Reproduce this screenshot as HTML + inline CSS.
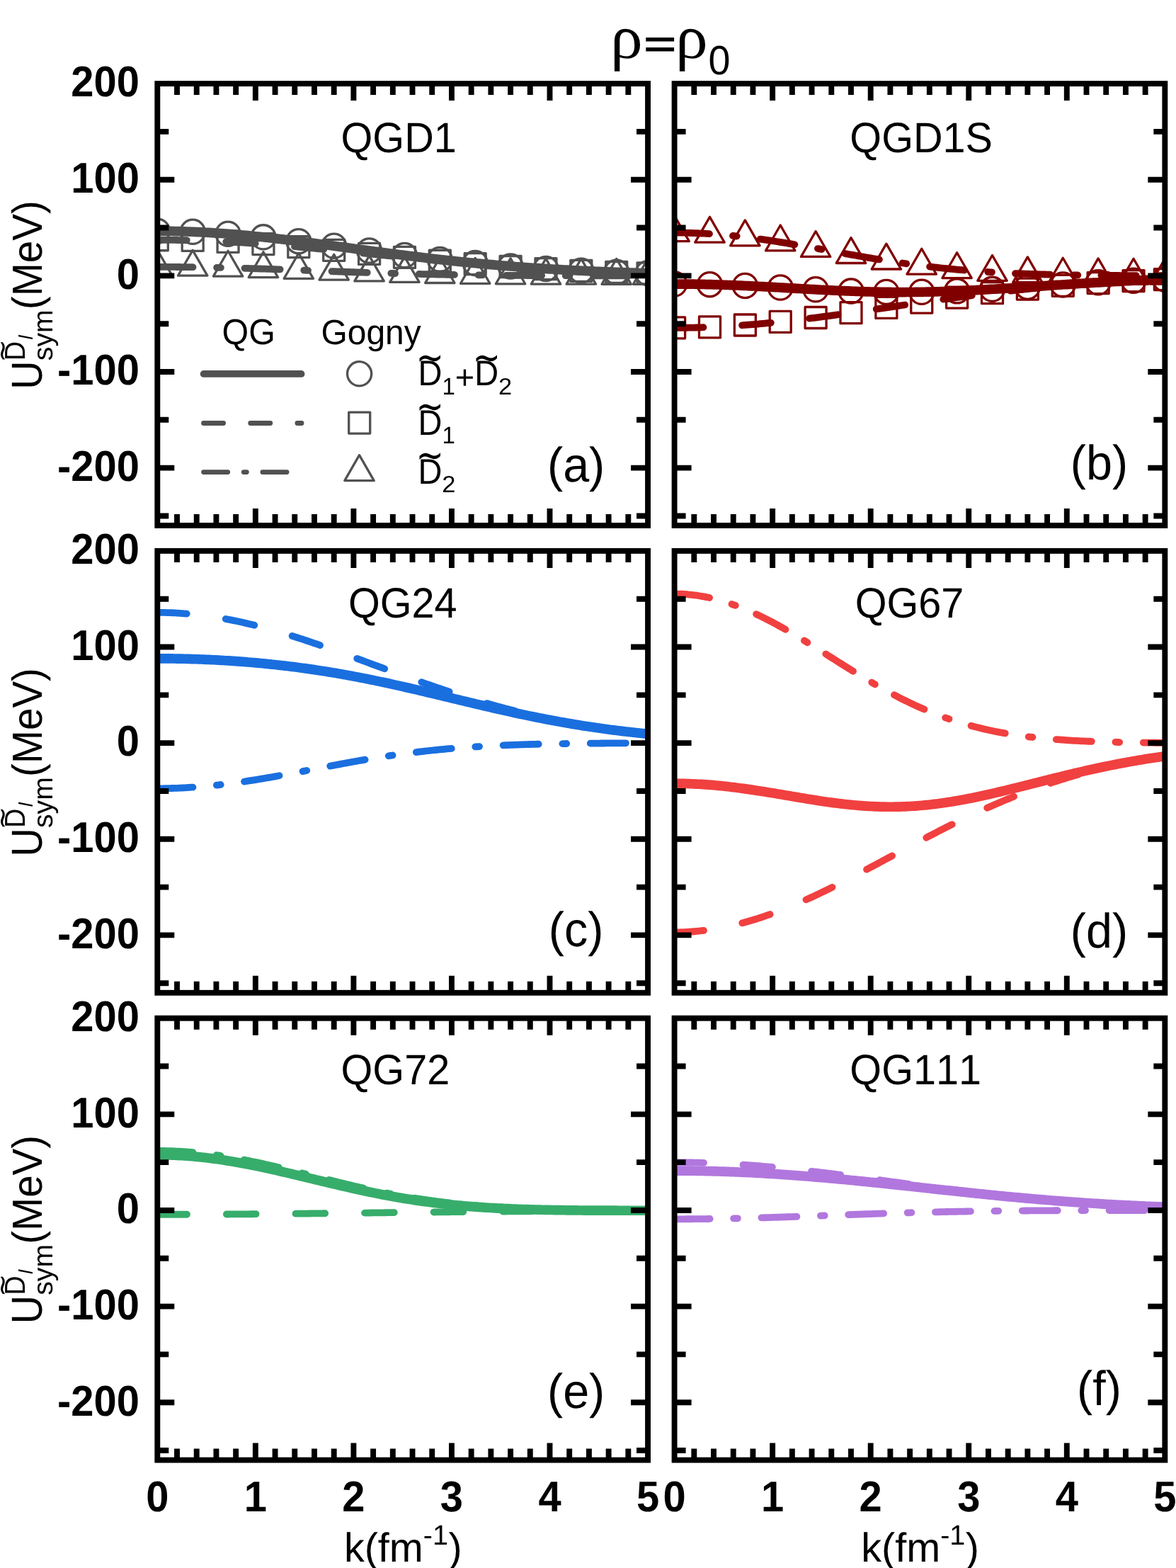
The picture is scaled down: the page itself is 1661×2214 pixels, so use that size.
<!DOCTYPE html>
<html lang="en"><head><meta charset="utf-8"><title>U_sym momentum dependence</title>
<style>html,body{margin:0;padding:0;background:#fff;overflow:hidden}svg{display:block}text{font-kerning:none;white-space:pre;text-rendering:geometricPrecision}</style></head>
<body>
<svg width="1661" height="2214" viewBox="0 0 1661 2214">
<rect x="0" y="0" width="1661" height="2214" fill="#fff"/>
<defs>
<clipPath id="c0"><rect x="222.3" y="118.1" width="692.75" height="623.9"/></clipPath>
<clipPath id="c1"><rect x="952.6" y="118.1" width="692.75" height="623.9"/></clipPath>
<clipPath id="c2"><rect x="222.3" y="777.9" width="692.75" height="623.9"/></clipPath>
<clipPath id="c3"><rect x="952.6" y="777.9" width="692.75" height="623.9"/></clipPath>
<clipPath id="c4"><rect x="222.3" y="1437.7" width="692.75" height="623.9"/></clipPath>
<clipPath id="c5"><rect x="952.6" y="1437.7" width="692.75" height="623.9"/></clipPath>
</defs>
<g clip-path="url(#c0)" fill="none" stroke="#515151" stroke-linecap="round" stroke-linejoin="round">
<g stroke-width="3.3">
<rect x="207.3" y="323.77" width="30" height="30"/>
<rect x="257.18" y="324.45" width="30" height="30"/>
<rect x="307.06" y="326.45" width="30" height="30"/>
<rect x="356.93" y="329.6" width="30" height="30"/>
<rect x="406.81" y="333.66" width="30" height="30"/>
<rect x="456.69" y="338.36" width="30" height="30"/>
<rect x="506.57" y="343.38" width="30" height="30"/>
<rect x="556.45" y="348.42" width="30" height="30"/>
<rect x="606.32" y="353.24" width="30" height="30"/>
<rect x="656.2" y="357.63" width="30" height="30"/>
<rect x="706.08" y="361.48" width="30" height="30"/>
<rect x="755.96" y="364.72" width="30" height="30"/>
<rect x="805.84" y="367.34" width="30" height="30"/>
<rect x="855.71" y="369.4" width="30" height="30"/>
<rect x="900.05" y="370.8" width="30" height="30"/>
<path d="M222.3,352.98 L243,388.83 L201.6,388.83 Z"/>
<path d="M272.18,353.31 L292.88,389.16 L251.48,389.16 Z"/>
<path d="M322.06,354.27 L342.76,390.12 L301.36,390.12 Z"/>
<path d="M371.93,355.72 L392.63,391.57 L351.23,391.57 Z"/>
<path d="M421.81,357.48 L442.51,393.33 L401.11,393.33 Z"/>
<path d="M471.69,359.34 L492.39,395.19 L450.99,395.19 Z"/>
<path d="M521.57,361.08 L542.27,396.93 L500.87,396.93 Z"/>
<path d="M571.45,362.55 L592.15,398.4 L550.75,398.4 Z"/>
<path d="M621.32,363.67 L642.02,399.52 L600.62,399.52 Z"/>
<path d="M671.2,364.44 L691.9,400.29 L650.5,400.29 Z"/>
<path d="M721.08,364.93 L741.78,400.78 L700.38,400.78 Z"/>
<path d="M770.96,365.2 L791.66,401.05 L750.26,401.05 Z"/>
<path d="M820.84,365.35 L841.54,401.2 L800.14,401.2 Z"/>
<path d="M870.71,365.41 L891.41,401.26 L850.01,401.26 Z"/>
<path d="M915.05,365.44 L935.75,401.29 L894.35,401.29 Z"/>
<circle cx="222.3" cy="326.29" r="17.1"/>
<circle cx="272.18" cy="327.31" r="17.1"/>
<circle cx="322.06" cy="330.25" r="17.1"/>
<circle cx="371.93" cy="334.85" r="17.1"/>
<circle cx="421.81" cy="340.69" r="17.1"/>
<circle cx="471.69" cy="347.24" r="17.1"/>
<circle cx="521.57" cy="354" r="17.1"/>
<circle cx="571.45" cy="360.51" r="17.1"/>
<circle cx="621.32" cy="366.44" r="17.1"/>
<circle cx="671.2" cy="371.61" r="17.1"/>
<circle cx="721.08" cy="375.94" r="17.1"/>
<circle cx="770.96" cy="379.46" r="17.1"/>
<circle cx="820.84" cy="382.23" r="17.1"/>
<circle cx="870.71" cy="384.35" r="17.1"/>
<circle cx="915.05" cy="385.78" r="17.1"/>
</g>
<path d="M222.3,338.77 L225.76,338.77 L229.23,338.78 L232.69,338.8 L236.16,338.82 L239.62,338.85 L243.08,338.89 L246.55,338.93 L250.01,338.98 L253.47,339.04 L256.94,339.1 L260.4,339.17 L263.87,339.25 L267.33,339.33 L270.79,339.42 L274.26,339.51 L277.72,339.61 L281.18,339.72 L284.65,339.83 L288.11,339.95 L291.58,340.08 L295.04,340.21 L298.5,340.35 L301.97,340.49 L305.43,340.64 L308.89,340.8 L312.36,340.96 L315.82,341.13 L319.29,341.3 L322.75,341.48 L326.21,341.67 L329.68,341.86 L333.14,342.05 L336.6,342.26 L340.07,342.46 L343.53,342.67 L347,342.89 L350.46,343.11 L353.92,343.34 L357.39,343.57 L360.85,343.81 L364.31,344.05 L367.78,344.29 L371.24,344.55 L374.71,344.8 L378.17,345.06 L381.63,345.32 L385.1,345.59 L388.56,345.86 L392.02,346.14 L395.49,346.42 L398.95,346.7 L402.42,346.99 L405.88,347.28 L409.34,347.58 L412.81,347.87 L416.27,348.17 L419.73,348.48 L423.2,348.79 L426.66,349.1 L430.12,349.41 L433.59,349.73 L437.05,350.05 L440.52,350.37 L443.98,350.69 L447.44,351.02 L450.91,351.35 L454.37,351.68 L457.84,352.01 L461.3,352.34 L464.76,352.68 L468.23,353.02 L471.69,353.36 L475.15,353.7 L478.62,354.04 L482.08,354.39 L485.55,354.73 L489.01,355.08 L492.47,355.43 L495.94,355.78 L499.4,356.13 L502.86,356.48 L506.33,356.83 L509.79,357.18 L513.26,357.53 L516.72,357.88 L520.18,358.24 L523.65,358.59 L527.11,358.94 L530.57,359.29 L534.04,359.65 L537.5,360 L540.97,360.35 L544.43,360.7 L547.89,361.05 L551.36,361.4 L554.82,361.75 L558.28,362.1 L561.75,362.45 L565.21,362.8 L568.67,363.14 L572.14,363.49 L575.6,363.83 L579.07,364.18 L582.53,364.52 L585.99,364.86 L589.46,365.2 L592.92,365.54 L596.38,365.87 L599.85,366.21 L603.31,366.54 L606.78,366.87 L610.24,367.2 L613.7,367.52 L617.17,367.85 L620.63,368.17 L624.1,368.49 L627.56,368.81 L631.02,369.13 L634.49,369.44 L637.95,369.76 L641.41,370.07 L644.88,370.37 L648.34,370.68 L651.81,370.98 L655.27,371.28 L658.73,371.58 L662.2,371.88 L665.66,372.17 L669.12,372.46 L672.59,372.75 L676.05,373.03 L679.52,373.31 L682.98,373.59 L686.44,373.87 L689.91,374.14 L693.37,374.41 L696.83,374.68 L700.3,374.95 L703.76,375.21 L707.22,375.47 L710.69,375.73 L714.15,375.98 L717.62,376.23 L721.08,376.48 L724.54,376.72 L728.01,376.97 L731.47,377.2 L734.93,377.44 L738.4,377.67 L741.86,377.9 L745.33,378.13 L748.79,378.35 L752.25,378.58 L755.72,378.79 L759.18,379.01 L762.64,379.22 L766.11,379.43 L769.57,379.64 L773.04,379.84 L776.5,380.04 L779.96,380.24 L783.43,380.43 L786.89,380.62 L790.36,380.81 L793.82,381 L797.28,381.18 L800.75,381.36 L804.21,381.53 L807.67,381.71 L811.14,381.88 L814.6,382.05 L818.07,382.21 L821.53,382.38 L824.99,382.54 L828.46,382.69 L831.92,382.85 L835.38,383 L838.85,383.15 L842.31,383.29 L845.78,383.44 L849.24,383.58 L852.7,383.72 L856.17,383.85 L859.63,383.99 L863.09,384.12 L866.56,384.25 L870.02,384.37 L873.49,384.5 L876.95,384.62 L880.41,384.74 L883.88,384.85 L887.34,384.97 L890.8,385.08 L894.27,385.19 L897.73,385.3 L901.2,385.4 L904.66,385.5 L908.12,385.6 L911.59,385.7 L915.05,385.8" stroke-width="9.8" stroke-dasharray="41.5 55.5"/>
<path d="M222.3,376.88 L225.76,376.88 L229.23,376.89 L232.69,376.9 L236.16,376.91 L239.62,376.92 L243.08,376.94 L246.55,376.96 L250.01,376.99 L253.47,377.01 L256.94,377.04 L260.4,377.08 L263.87,377.11 L267.33,377.15 L270.79,377.2 L274.26,377.24 L277.72,377.29 L281.18,377.34 L284.65,377.4 L288.11,377.46 L291.58,377.52 L295.04,377.58 L298.5,377.65 L301.97,377.71 L305.43,377.79 L308.89,377.86 L312.36,377.94 L315.82,378.02 L319.29,378.1 L322.75,378.18 L326.21,378.27 L329.68,378.36 L333.14,378.45 L336.6,378.55 L340.07,378.64 L343.53,378.74 L347,378.84 L350.46,378.94 L353.92,379.05 L357.39,379.15 L360.85,379.26 L364.31,379.37 L367.78,379.48 L371.24,379.6 L374.71,379.71 L378.17,379.83 L381.63,379.95 L385.1,380.06 L388.56,380.18 L392.02,380.31 L395.49,380.43 L398.95,380.55 L402.42,380.68 L405.88,380.8 L409.34,380.93 L412.81,381.05 L416.27,381.18 L419.73,381.31 L423.2,381.44 L426.66,381.57 L430.12,381.69 L433.59,381.82 L437.05,381.95 L440.52,382.08 L443.98,382.21 L447.44,382.34 L450.91,382.47 L454.37,382.6 L457.84,382.73 L461.3,382.86 L464.76,382.99 L468.23,383.12 L471.69,383.24 L475.15,383.37 L478.62,383.5 L482.08,383.62 L485.55,383.75 L489.01,383.87 L492.47,383.99 L495.94,384.11 L499.4,384.24 L502.86,384.36 L506.33,384.47 L509.79,384.59 L513.26,384.71 L516.72,384.82 L520.18,384.94 L523.65,385.05 L527.11,385.16 L530.57,385.27 L534.04,385.38 L537.5,385.49 L540.97,385.59 L544.43,385.69 L547.89,385.8 L551.36,385.9 L554.82,386 L558.28,386.09 L561.75,386.19 L565.21,386.28 L568.67,386.38 L572.14,386.47 L575.6,386.56 L579.07,386.64 L582.53,386.73 L585.99,386.81 L589.46,386.89 L592.92,386.97 L596.38,387.05 L599.85,387.13 L603.31,387.2 L606.78,387.28 L610.24,387.35 L613.7,387.42 L617.17,387.49 L620.63,387.55 L624.1,387.62 L627.56,387.68 L631.02,387.74 L634.49,387.8 L637.95,387.86 L641.41,387.92 L644.88,387.97 L648.34,388.03 L651.81,388.08 L655.27,388.13 L658.73,388.18 L662.2,388.22 L665.66,388.27 L669.12,388.31 L672.59,388.36 L676.05,388.4 L679.52,388.44 L682.98,388.48 L686.44,388.52 L689.91,388.55 L693.37,388.59 L696.83,388.62 L700.3,388.65 L703.76,388.69 L707.22,388.72 L710.69,388.74 L714.15,388.77 L717.62,388.8 L721.08,388.83 L724.54,388.85 L728.01,388.88 L731.47,388.9 L734.93,388.92 L738.4,388.94 L741.86,388.96 L745.33,388.98 L748.79,389 L752.25,389.02 L755.72,389.04 L759.18,389.05 L762.64,389.07 L766.11,389.08 L769.57,389.1 L773.04,389.11 L776.5,389.12 L779.96,389.14 L783.43,389.15 L786.89,389.16 L790.36,389.17 L793.82,389.18 L797.28,389.19 L800.75,389.2 L804.21,389.21 L807.67,389.22 L811.14,389.23 L814.6,389.23 L818.07,389.24 L821.53,389.25 L824.99,389.25 L828.46,389.26 L831.92,389.27 L835.38,389.27 L838.85,389.28 L842.31,389.28 L845.78,389.29 L849.24,389.29 L852.7,389.3 L856.17,389.3 L859.63,389.3 L863.09,389.31 L866.56,389.31 L870.02,389.31 L873.49,389.32 L876.95,389.32 L880.41,389.32 L883.88,389.32 L887.34,389.33 L890.8,389.33 L894.27,389.33 L897.73,389.33 L901.2,389.34 L904.66,389.34 L908.12,389.34 L911.59,389.34 L915.05,389.34" stroke-width="9.8" stroke-dasharray="50.2 33.6 5.8 33.6"/>
<path d="M222.3,326.29 L225.76,326.3 L229.23,326.31 L232.69,326.34 L236.16,326.37 L239.62,326.42 L243.08,326.47 L246.55,326.53 L250.01,326.61 L253.47,326.69 L256.94,326.78 L260.4,326.89 L263.87,327 L267.33,327.12 L270.79,327.25 L274.26,327.39 L277.72,327.54 L281.18,327.7 L284.65,327.87 L288.11,328.05 L291.58,328.23 L295.04,328.43 L298.5,328.63 L301.97,328.85 L305.43,329.07 L308.89,329.3 L312.36,329.54 L315.82,329.79 L319.29,330.04 L322.75,330.31 L326.21,330.58 L329.68,330.86 L333.14,331.15 L336.6,331.44 L340.07,331.74 L343.53,332.05 L347,332.37 L350.46,332.69 L353.92,333.03 L357.39,333.36 L360.85,333.71 L364.31,334.06 L367.78,334.42 L371.24,334.78 L374.71,335.15 L378.17,335.53 L381.63,335.91 L385.1,336.29 L388.56,336.69 L392.02,337.08 L395.49,337.49 L398.95,337.89 L402.42,338.3 L405.88,338.72 L409.34,339.14 L412.81,339.57 L416.27,339.99 L419.73,340.43 L423.2,340.86 L426.66,341.3 L430.12,341.74 L433.59,342.19 L437.05,342.64 L440.52,343.09 L443.98,343.54 L447.44,344 L450.91,344.46 L454.37,344.92 L457.84,345.38 L461.3,345.84 L464.76,346.31 L468.23,346.77 L471.69,347.24 L475.15,347.71 L478.62,348.18 L482.08,348.65 L485.55,349.12 L489.01,349.59 L492.47,350.06 L495.94,350.53 L499.4,351 L502.86,351.47 L506.33,351.94 L509.79,352.41 L513.26,352.88 L516.72,353.35 L520.18,353.81 L523.65,354.28 L527.11,354.74 L530.57,355.2 L534.04,355.66 L537.5,356.12 L540.97,356.58 L544.43,357.04 L547.89,357.49 L551.36,357.94 L554.82,358.39 L558.28,358.84 L561.75,359.28 L565.21,359.72 L568.67,360.16 L572.14,360.6 L575.6,361.03 L579.07,361.46 L582.53,361.89 L585.99,362.31 L589.46,362.73 L592.92,363.15 L596.38,363.56 L599.85,363.97 L603.31,364.38 L606.78,364.79 L610.24,365.19 L613.7,365.58 L617.17,365.98 L620.63,366.37 L624.1,366.75 L627.56,367.13 L631.02,367.51 L634.49,367.89 L637.95,368.26 L641.41,368.62 L644.88,368.99 L648.34,369.35 L651.81,369.7 L655.27,370.05 L658.73,370.4 L662.2,370.74 L665.66,371.08 L669.12,371.41 L672.59,371.74 L676.05,372.07 L679.52,372.39 L682.98,372.71 L686.44,373.03 L689.91,373.34 L693.37,373.64 L696.83,373.94 L700.3,374.24 L703.76,374.54 L707.22,374.82 L710.69,375.11 L714.15,375.39 L717.62,375.67 L721.08,375.94 L724.54,376.21 L728.01,376.48 L731.47,376.74 L734.93,377 L738.4,377.25 L741.86,377.51 L745.33,377.75 L748.79,377.99 L752.25,378.23 L755.72,378.47 L759.18,378.7 L762.64,378.93 L766.11,379.15 L769.57,379.37 L773.04,379.59 L776.5,379.8 L779.96,380.01 L783.43,380.22 L786.89,380.42 L790.36,380.62 L793.82,380.82 L797.28,381.01 L800.75,381.2 L804.21,381.38 L807.67,381.57 L811.14,381.74 L814.6,381.92 L818.07,382.09 L821.53,382.26 L824.99,382.43 L828.46,382.59 L831.92,382.75 L835.38,382.91 L838.85,383.06 L842.31,383.22 L845.78,383.36 L849.24,383.51 L852.7,383.65 L856.17,383.79 L859.63,383.93 L863.09,384.06 L866.56,384.2 L870.02,384.33 L873.49,384.45 L876.95,384.58 L880.41,384.7 L883.88,384.82 L887.34,384.93 L890.8,385.05 L894.27,385.16 L897.73,385.27 L901.2,385.38 L904.66,385.48 L908.12,385.58 L911.59,385.68 L915.05,385.78" stroke-width="13.7"/>
</g>
<g clip-path="url(#c1)" fill="none" stroke="#800000" stroke-linecap="round" stroke-linejoin="round">
<g stroke-width="3.3">
<rect x="937.6" y="447.87" width="30" height="30"/>
<rect x="987.48" y="446.88" width="30" height="30"/>
<rect x="1037.36" y="443.98" width="30" height="30"/>
<rect x="1087.23" y="439.41" width="30" height="30"/>
<rect x="1137.11" y="433.5" width="30" height="30"/>
<rect x="1186.99" y="426.67" width="30" height="30"/>
<rect x="1236.87" y="419.38" width="30" height="30"/>
<rect x="1286.75" y="412.05" width="30" height="30"/>
<rect x="1336.62" y="405.06" width="30" height="30"/>
<rect x="1386.5" y="398.67" width="30" height="30"/>
<rect x="1436.38" y="393.08" width="30" height="30"/>
<rect x="1486.26" y="388.37" width="30" height="30"/>
<rect x="1536.14" y="384.56" width="30" height="30"/>
<rect x="1586.01" y="381.57" width="30" height="30"/>
<rect x="1630.35" y="379.54" width="30" height="30"/>
<path d="M952.6,304.7 L973.3,340.55 L931.9,340.55 Z"/>
<path d="M1002.48,306.31 L1023.18,342.16 L981.78,342.16 Z"/>
<path d="M1052.36,310.95 L1073.06,346.8 L1031.66,346.8 Z"/>
<path d="M1102.23,318.03 L1122.93,353.88 L1081.53,353.88 Z"/>
<path d="M1152.11,326.62 L1172.81,362.47 L1131.41,362.47 Z"/>
<path d="M1201.99,335.67 L1222.69,371.52 L1181.29,371.52 Z"/>
<path d="M1251.87,344.14 L1272.57,379.99 L1231.17,379.99 Z"/>
<path d="M1301.75,351.28 L1322.45,387.13 L1281.05,387.13 Z"/>
<path d="M1351.62,356.73 L1372.32,392.58 L1330.92,392.58 Z"/>
<path d="M1401.5,360.49 L1422.2,396.34 L1380.8,396.34 Z"/>
<path d="M1451.38,362.86 L1472.08,398.71 L1430.68,398.71 Z"/>
<path d="M1501.26,364.21 L1521.96,400.06 L1480.56,400.06 Z"/>
<path d="M1551.14,364.91 L1571.84,400.76 L1530.44,400.76 Z"/>
<path d="M1601.01,365.24 L1621.71,401.09 L1580.31,401.09 Z"/>
<path d="M1645.35,365.37 L1666.05,401.22 L1624.65,401.22 Z"/>
<circle cx="952.6" cy="401.03" r="17.1"/>
<circle cx="1002.48" cy="401.66" r="17.1"/>
<circle cx="1052.36" cy="403.45" r="17.1"/>
<circle cx="1102.23" cy="406.01" r="17.1"/>
<circle cx="1152.11" cy="408.79" r="17.1"/>
<circle cx="1201.99" cy="411.11" r="17.1"/>
<circle cx="1251.87" cy="412.4" r="17.1"/>
<circle cx="1301.75" cy="412.32" r="17.1"/>
<circle cx="1351.62" cy="410.87" r="17.1"/>
<circle cx="1401.5" cy="408.34" r="17.1"/>
<circle cx="1451.38" cy="405.2" r="17.1"/>
<circle cx="1501.26" cy="401.91" r="17.1"/>
<circle cx="1551.14" cy="398.85" r="17.1"/>
<circle cx="1601.01" cy="396.24" r="17.1"/>
<circle cx="1645.35" cy="394.36" r="17.1"/>
</g>
<path d="M952.6,462.87 L956.06,462.87 L959.53,462.85 L962.99,462.83 L966.46,462.8 L969.92,462.75 L973.38,462.7 L976.85,462.64 L980.31,462.57 L983.77,462.48 L987.24,462.39 L990.7,462.29 L994.17,462.18 L997.63,462.06 L1001.09,461.93 L1004.56,461.8 L1008.02,461.65 L1011.48,461.49 L1014.95,461.33 L1018.41,461.15 L1021.88,460.97 L1025.34,460.78 L1028.8,460.58 L1032.27,460.37 L1035.73,460.15 L1039.19,459.92 L1042.66,459.69 L1046.12,459.44 L1049.59,459.19 L1053.05,458.93 L1056.51,458.66 L1059.98,458.39 L1063.44,458.1 L1066.9,457.81 L1070.37,457.51 L1073.83,457.2 L1077.3,456.89 L1080.76,456.56 L1084.22,456.23 L1087.69,455.9 L1091.15,455.55 L1094.61,455.2 L1098.08,454.85 L1101.54,454.48 L1105.01,454.11 L1108.47,453.73 L1111.93,453.35 L1115.4,452.96 L1118.86,452.57 L1122.32,452.17 L1125.79,451.76 L1129.25,451.35 L1132.72,450.93 L1136.18,450.51 L1139.64,450.08 L1143.11,449.65 L1146.57,449.21 L1150.03,448.77 L1153.5,448.32 L1156.96,447.87 L1160.42,447.41 L1163.89,446.95 L1167.35,446.49 L1170.82,446.02 L1174.28,445.55 L1177.74,445.08 L1181.21,444.6 L1184.67,444.12 L1188.13,443.64 L1191.6,443.15 L1195.06,442.66 L1198.53,442.17 L1201.99,441.67 L1205.45,441.18 L1208.92,440.68 L1212.38,440.18 L1215.85,439.68 L1219.31,439.17 L1222.77,438.67 L1226.24,438.16 L1229.7,437.65 L1233.16,437.14 L1236.63,436.63 L1240.09,436.12 L1243.56,435.61 L1247.02,435.1 L1250.48,434.59 L1253.95,434.08 L1257.41,433.56 L1260.87,433.05 L1264.34,432.54 L1267.8,432.03 L1271.27,431.52 L1274.73,431 L1278.19,430.49 L1281.66,429.99 L1285.12,429.48 L1288.58,428.97 L1292.05,428.46 L1295.51,427.96 L1298.97,427.46 L1302.44,426.95 L1305.9,426.45 L1309.37,425.96 L1312.83,425.46 L1316.29,424.96 L1319.76,424.47 L1323.22,423.98 L1326.68,423.49 L1330.15,423.01 L1333.61,422.52 L1337.08,422.04 L1340.54,421.57 L1344,421.09 L1347.47,420.62 L1350.93,420.15 L1354.39,419.68 L1357.86,419.22 L1361.32,418.76 L1364.79,418.3 L1368.25,417.85 L1371.71,417.4 L1375.18,416.95 L1378.64,416.51 L1382.11,416.07 L1385.57,415.63 L1389.03,415.2 L1392.5,414.77 L1395.96,414.34 L1399.42,413.92 L1402.89,413.5 L1406.35,413.09 L1409.82,412.68 L1413.28,412.27 L1416.74,411.87 L1420.21,411.47 L1423.67,411.08 L1427.13,410.69 L1430.6,410.3 L1434.06,409.92 L1437.53,409.55 L1440.99,409.17 L1444.45,408.8 L1447.92,408.44 L1451.38,408.08 L1454.84,407.72 L1458.31,407.37 L1461.77,407.02 L1465.24,406.68 L1468.7,406.34 L1472.16,406.01 L1475.63,405.68 L1479.09,405.35 L1482.55,405.03 L1486.02,404.72 L1489.48,404.4 L1492.95,404.1 L1496.41,403.79 L1499.87,403.49 L1503.34,403.2 L1506.8,402.91 L1510.26,402.62 L1513.73,402.34 L1517.19,402.06 L1520.66,401.79 L1524.12,401.52 L1527.58,401.25 L1531.05,400.99 L1534.51,400.73 L1537.97,400.48 L1541.44,400.23 L1544.9,399.99 L1548.37,399.75 L1551.83,399.51 L1555.29,399.28 L1558.76,399.05 L1562.22,398.83 L1565.68,398.61 L1569.15,398.39 L1572.61,398.18 L1576.08,397.97 L1579.54,397.76 L1583,397.56 L1586.47,397.36 L1589.93,397.17 L1593.39,396.98 L1596.86,396.79 L1600.32,396.61 L1603.79,396.43 L1607.25,396.25 L1610.71,396.08 L1614.18,395.91 L1617.64,395.75 L1621.1,395.58 L1624.57,395.42 L1628.03,395.27 L1631.5,395.12 L1634.96,394.97 L1638.42,394.82 L1641.89,394.68 L1645.35,394.54" stroke-width="9.8" stroke-dasharray="40.88 54.67"/>
<path d="M952.6,328.6 L956.06,328.61 L959.53,328.63 L962.99,328.67 L966.46,328.72 L969.92,328.79 L973.38,328.88 L976.85,328.98 L980.31,329.1 L983.77,329.23 L987.24,329.38 L990.7,329.54 L994.17,329.72 L997.63,329.92 L1001.09,330.13 L1004.56,330.35 L1008.02,330.59 L1011.48,330.84 L1014.95,331.11 L1018.41,331.39 L1021.88,331.68 L1025.34,331.99 L1028.8,332.31 L1032.27,332.65 L1035.73,333 L1039.19,333.36 L1042.66,333.74 L1046.12,334.12 L1049.59,334.52 L1053.05,334.94 L1056.51,335.36 L1059.98,335.79 L1063.44,336.24 L1066.9,336.7 L1070.37,337.17 L1073.83,337.65 L1077.3,338.14 L1080.76,338.63 L1084.22,339.14 L1087.69,339.66 L1091.15,340.19 L1094.61,340.72 L1098.08,341.26 L1101.54,341.81 L1105.01,342.37 L1108.47,342.94 L1111.93,343.51 L1115.4,344.09 L1118.86,344.67 L1122.32,345.26 L1125.79,345.86 L1129.25,346.46 L1132.72,347.06 L1136.18,347.67 L1139.64,348.29 L1143.11,348.9 L1146.57,349.52 L1150.03,350.15 L1153.5,350.77 L1156.96,351.4 L1160.42,352.03 L1163.89,352.66 L1167.35,353.29 L1170.82,353.92 L1174.28,354.55 L1177.74,355.18 L1181.21,355.81 L1184.67,356.44 L1188.13,357.07 L1191.6,357.7 L1195.06,358.32 L1198.53,358.95 L1201.99,359.57 L1205.45,360.18 L1208.92,360.8 L1212.38,361.41 L1215.85,362.02 L1219.31,362.62 L1222.77,363.22 L1226.24,363.81 L1229.7,364.4 L1233.16,364.99 L1236.63,365.56 L1240.09,366.14 L1243.56,366.7 L1247.02,367.26 L1250.48,367.82 L1253.95,368.37 L1257.41,368.91 L1260.87,369.44 L1264.34,369.97 L1267.8,370.49 L1271.27,371 L1274.73,371.51 L1278.19,372.01 L1281.66,372.5 L1285.12,372.98 L1288.58,373.45 L1292.05,373.92 L1295.51,374.38 L1298.97,374.83 L1302.44,375.27 L1305.9,375.7 L1309.37,376.13 L1312.83,376.54 L1316.29,376.95 L1319.76,377.35 L1323.22,377.74 L1326.68,378.12 L1330.15,378.5 L1333.61,378.86 L1337.08,379.22 L1340.54,379.57 L1344,379.91 L1347.47,380.24 L1350.93,380.56 L1354.39,380.88 L1357.86,381.19 L1361.32,381.48 L1364.79,381.78 L1368.25,382.06 L1371.71,382.33 L1375.18,382.6 L1378.64,382.86 L1382.11,383.11 L1385.57,383.36 L1389.03,383.6 L1392.5,383.83 L1395.96,384.05 L1399.42,384.27 L1402.89,384.48 L1406.35,384.68 L1409.82,384.87 L1413.28,385.06 L1416.74,385.25 L1420.21,385.42 L1423.67,385.59 L1427.13,385.76 L1430.6,385.92 L1434.06,386.07 L1437.53,386.22 L1440.99,386.36 L1444.45,386.5 L1447.92,386.63 L1451.38,386.76 L1454.84,386.88 L1458.31,387 L1461.77,387.11 L1465.24,387.22 L1468.7,387.32 L1472.16,387.42 L1475.63,387.52 L1479.09,387.61 L1482.55,387.69 L1486.02,387.78 L1489.48,387.86 L1492.95,387.94 L1496.41,388.01 L1499.87,388.08 L1503.34,388.15 L1506.8,388.21 L1510.26,388.27 L1513.73,388.33 L1517.19,388.38 L1520.66,388.44 L1524.12,388.49 L1527.58,388.54 L1531.05,388.58 L1534.51,388.63 L1537.97,388.67 L1541.44,388.71 L1544.9,388.74 L1548.37,388.78 L1551.83,388.81 L1555.29,388.84 L1558.76,388.87 L1562.22,388.9 L1565.68,388.93 L1569.15,388.96 L1572.61,388.98 L1576.08,389 L1579.54,389.02 L1583,389.05 L1586.47,389.06 L1589.93,389.08 L1593.39,389.1 L1596.86,389.12 L1600.32,389.13 L1603.79,389.15 L1607.25,389.16 L1610.71,389.17 L1614.18,389.19 L1617.64,389.2 L1621.1,389.21 L1624.57,389.22 L1628.03,389.23 L1631.5,389.24 L1634.96,389.24 L1638.42,389.25 L1641.89,389.26 L1645.35,389.27" stroke-width="9.8" stroke-dasharray="49.45 33.1 5.71 33.1"/>
<path d="M952.6,401.03 L956.06,401.03 L959.53,401.04 L962.99,401.05 L966.46,401.07 L969.92,401.1 L973.38,401.14 L976.85,401.18 L980.31,401.22 L983.77,401.28 L987.24,401.33 L990.7,401.4 L994.17,401.47 L997.63,401.55 L1001.09,401.63 L1004.56,401.72 L1008.02,401.81 L1011.48,401.91 L1014.95,402.01 L1018.41,402.12 L1021.88,402.24 L1025.34,402.35 L1028.8,402.48 L1032.27,402.61 L1035.73,402.74 L1039.19,402.88 L1042.66,403.02 L1046.12,403.17 L1049.59,403.32 L1053.05,403.48 L1056.51,403.64 L1059.98,403.8 L1063.44,403.97 L1066.9,404.14 L1070.37,404.31 L1073.83,404.49 L1077.3,404.66 L1080.76,404.85 L1084.22,405.03 L1087.69,405.21 L1091.15,405.4 L1094.61,405.59 L1098.08,405.78 L1101.54,405.97 L1105.01,406.17 L1108.47,406.36 L1111.93,406.56 L1115.4,406.75 L1118.86,406.95 L1122.32,407.14 L1125.79,407.34 L1129.25,407.53 L1132.72,407.72 L1136.18,407.92 L1139.64,408.11 L1143.11,408.3 L1146.57,408.49 L1150.03,408.67 L1153.5,408.86 L1156.96,409.04 L1160.42,409.22 L1163.89,409.4 L1167.35,409.57 L1170.82,409.74 L1174.28,409.91 L1177.74,410.08 L1181.21,410.24 L1184.67,410.39 L1188.13,410.54 L1191.6,410.69 L1195.06,410.84 L1198.53,410.97 L1201.99,411.11 L1205.45,411.24 L1208.92,411.36 L1212.38,411.48 L1215.85,411.59 L1219.31,411.7 L1222.77,411.8 L1226.24,411.89 L1229.7,411.98 L1233.16,412.06 L1236.63,412.14 L1240.09,412.21 L1243.56,412.27 L1247.02,412.33 L1250.48,412.38 L1253.95,412.42 L1257.41,412.46 L1260.87,412.49 L1264.34,412.51 L1267.8,412.53 L1271.27,412.54 L1274.73,412.54 L1278.19,412.53 L1281.66,412.52 L1285.12,412.5 L1288.58,412.48 L1292.05,412.44 L1295.51,412.41 L1298.97,412.36 L1302.44,412.31 L1305.9,412.25 L1309.37,412.18 L1312.83,412.11 L1316.29,412.03 L1319.76,411.94 L1323.22,411.85 L1326.68,411.75 L1330.15,411.65 L1333.61,411.54 L1337.08,411.42 L1340.54,411.3 L1344,411.17 L1347.47,411.04 L1350.93,410.9 L1354.39,410.75 L1357.86,410.6 L1361.32,410.45 L1364.79,410.29 L1368.25,410.12 L1371.71,409.96 L1375.18,409.78 L1378.64,409.61 L1382.11,409.42 L1385.57,409.24 L1389.03,409.05 L1392.5,408.86 L1395.96,408.66 L1399.42,408.46 L1402.89,408.26 L1406.35,408.06 L1409.82,407.85 L1413.28,407.64 L1416.74,407.42 L1420.21,407.21 L1423.67,406.99 L1427.13,406.77 L1430.6,406.55 L1434.06,406.33 L1437.53,406.11 L1440.99,405.88 L1444.45,405.65 L1447.92,405.43 L1451.38,405.2 L1454.84,404.97 L1458.31,404.74 L1461.77,404.51 L1465.24,404.28 L1468.7,404.05 L1472.16,403.82 L1475.63,403.59 L1479.09,403.36 L1482.55,403.14 L1486.02,402.91 L1489.48,402.68 L1492.95,402.45 L1496.41,402.23 L1499.87,402 L1503.34,401.78 L1506.8,401.56 L1510.26,401.33 L1513.73,401.11 L1517.19,400.9 L1520.66,400.68 L1524.12,400.46 L1527.58,400.25 L1531.05,400.04 L1534.51,399.83 L1537.97,399.62 L1541.44,399.42 L1544.9,399.21 L1548.37,399.01 L1551.83,398.81 L1555.29,398.62 L1558.76,398.42 L1562.22,398.23 L1565.68,398.04 L1569.15,397.85 L1572.61,397.67 L1576.08,397.48 L1579.54,397.3 L1583,397.12 L1586.47,396.95 L1589.93,396.78 L1593.39,396.61 L1596.86,396.44 L1600.32,396.27 L1603.79,396.11 L1607.25,395.95 L1610.71,395.79 L1614.18,395.64 L1617.64,395.49 L1621.1,395.34 L1624.57,395.19 L1628.03,395.05 L1631.5,394.91 L1634.96,394.77 L1638.42,394.63 L1641.89,394.5 L1645.35,394.36" stroke-width="13.7"/>
</g>
<g clip-path="url(#c2)" fill="none" stroke="#1A6FDF" stroke-linecap="round" stroke-linejoin="round">
<path d="M222.3,864.84 L225.76,864.85 L229.23,864.89 L232.69,864.95 L236.16,865.03 L239.62,865.14 L243.08,865.27 L246.55,865.43 L250.01,865.61 L253.47,865.81 L256.94,866.04 L260.4,866.29 L263.87,866.57 L267.33,866.87 L270.79,867.19 L274.26,867.54 L277.72,867.9 L281.18,868.3 L284.65,868.71 L288.11,869.15 L291.58,869.61 L295.04,870.09 L298.5,870.59 L301.97,871.12 L305.43,871.67 L308.89,872.23 L312.36,872.82 L315.82,873.44 L319.29,874.07 L322.75,874.72 L326.21,875.39 L329.68,876.09 L333.14,876.8 L336.6,877.53 L340.07,878.29 L343.53,879.06 L347,879.85 L350.46,880.66 L353.92,881.48 L357.39,882.33 L360.85,883.19 L364.31,884.07 L367.78,884.96 L371.24,885.88 L374.71,886.81 L378.17,887.75 L381.63,888.71 L385.1,889.69 L388.56,890.68 L392.02,891.68 L395.49,892.7 L398.95,893.74 L402.42,894.79 L405.88,895.85 L409.34,896.92 L412.81,898 L416.27,899.1 L419.73,900.21 L423.2,901.33 L426.66,902.46 L430.12,903.6 L433.59,904.76 L437.05,905.92 L440.52,907.09 L443.98,908.27 L447.44,909.46 L450.91,910.66 L454.37,911.86 L457.84,913.07 L461.3,914.29 L464.76,915.52 L468.23,916.75 L471.69,917.99 L475.15,919.24 L478.62,920.49 L482.08,921.74 L485.55,923 L489.01,924.26 L492.47,925.53 L495.94,926.8 L499.4,928.08 L502.86,929.35 L506.33,930.63 L509.79,931.91 L513.26,933.19 L516.72,934.48 L520.18,935.76 L523.65,937.04 L527.11,938.33 L530.57,939.61 L534.04,940.9 L537.5,942.18 L540.97,943.46 L544.43,944.74 L547.89,946.02 L551.36,947.3 L554.82,948.57 L558.28,949.85 L561.75,951.12 L565.21,952.38 L568.67,953.64 L572.14,954.9 L575.6,956.16 L579.07,957.4 L582.53,958.65 L585.99,959.89 L589.46,961.12 L592.92,962.35 L596.38,963.58 L599.85,964.8 L603.31,966.01 L606.78,967.21 L610.24,968.41 L613.7,969.6 L617.17,970.79 L620.63,971.96 L624.1,973.13 L627.56,974.3 L631.02,975.45 L634.49,976.6 L637.95,977.73 L641.41,978.86 L644.88,979.99 L648.34,981.1 L651.81,982.2 L655.27,983.3 L658.73,984.38 L662.2,985.46 L665.66,986.52 L669.12,987.58 L672.59,988.63 L676.05,989.67 L679.52,990.69 L682.98,991.71 L686.44,992.72 L689.91,993.72 L693.37,994.71 L696.83,995.68 L700.3,996.65 L703.76,997.61 L707.22,998.55 L710.69,999.49 L714.15,1000.41 L717.62,1001.32 L721.08,1002.23 L724.54,1003.12 L728.01,1004 L731.47,1004.87 L734.93,1005.73 L738.4,1006.58 L741.86,1007.42 L745.33,1008.24 L748.79,1009.06 L752.25,1009.87 L755.72,1010.66 L759.18,1011.44 L762.64,1012.21 L766.11,1012.98 L769.57,1013.73 L773.04,1014.47 L776.5,1015.2 L779.96,1015.91 L783.43,1016.62 L786.89,1017.32 L790.36,1018 L793.82,1018.68 L797.28,1019.35 L800.75,1020 L804.21,1020.64 L807.67,1021.28 L811.14,1021.9 L814.6,1022.51 L818.07,1023.12 L821.53,1023.71 L824.99,1024.29 L828.46,1024.87 L831.92,1025.43 L835.38,1025.98 L838.85,1026.52 L842.31,1027.06 L845.78,1027.58 L849.24,1028.1 L852.7,1028.6 L856.17,1029.1 L859.63,1029.58 L863.09,1030.06 L866.56,1030.53 L870.02,1030.99 L873.49,1031.44 L876.95,1031.88 L880.41,1032.31 L883.88,1032.74 L887.34,1033.15 L890.8,1033.56 L894.27,1033.96 L897.73,1034.35 L901.2,1034.73 L904.66,1035.11 L908.12,1035.48 L911.59,1035.83 L915.05,1036.19" stroke-width="9.8" stroke-dasharray="41.5 55.5"/>
<path d="M222.3,1113.31 L225.76,1113.31 L229.23,1113.28 L232.69,1113.24 L236.16,1113.18 L239.62,1113.11 L243.08,1113.02 L246.55,1112.91 L250.01,1112.78 L253.47,1112.64 L256.94,1112.49 L260.4,1112.32 L263.87,1112.13 L267.33,1111.92 L270.79,1111.7 L274.26,1111.47 L277.72,1111.22 L281.18,1110.95 L284.65,1110.67 L288.11,1110.37 L291.58,1110.06 L295.04,1109.73 L298.5,1109.39 L301.97,1109.04 L305.43,1108.67 L308.89,1108.29 L312.36,1107.89 L315.82,1107.48 L319.29,1107.06 L322.75,1106.62 L326.21,1106.18 L329.68,1105.72 L333.14,1105.24 L336.6,1104.76 L340.07,1104.27 L343.53,1103.76 L347,1103.24 L350.46,1102.72 L353.92,1102.18 L357.39,1101.64 L360.85,1101.08 L364.31,1100.52 L367.78,1099.94 L371.24,1099.36 L374.71,1098.77 L378.17,1098.17 L381.63,1097.57 L385.1,1096.96 L388.56,1096.34 L392.02,1095.72 L395.49,1095.09 L398.95,1094.46 L402.42,1093.82 L405.88,1093.17 L409.34,1092.53 L412.81,1091.87 L416.27,1091.22 L419.73,1090.56 L423.2,1089.9 L426.66,1089.24 L430.12,1088.58 L433.59,1087.91 L437.05,1087.25 L440.52,1086.58 L443.98,1085.91 L447.44,1085.25 L450.91,1084.58 L454.37,1083.92 L457.84,1083.25 L461.3,1082.59 L464.76,1081.93 L468.23,1081.27 L471.69,1080.62 L475.15,1079.97 L478.62,1079.32 L482.08,1078.67 L485.55,1078.03 L489.01,1077.39 L492.47,1076.76 L495.94,1076.14 L499.4,1075.51 L502.86,1074.9 L506.33,1074.29 L509.79,1073.68 L513.26,1073.08 L516.72,1072.49 L520.18,1071.91 L523.65,1071.33 L527.11,1070.75 L530.57,1070.19 L534.04,1069.63 L537.5,1069.08 L540.97,1068.54 L544.43,1068.01 L547.89,1067.48 L551.36,1066.97 L554.82,1066.46 L558.28,1065.96 L561.75,1065.46 L565.21,1064.98 L568.67,1064.51 L572.14,1064.04 L575.6,1063.58 L579.07,1063.13 L582.53,1062.69 L585.99,1062.26 L589.46,1061.84 L592.92,1061.43 L596.38,1061.03 L599.85,1060.63 L603.31,1060.25 L606.78,1059.87 L610.24,1059.5 L613.7,1059.14 L617.17,1058.79 L620.63,1058.45 L624.1,1058.12 L627.56,1057.79 L631.02,1057.48 L634.49,1057.17 L637.95,1056.87 L641.41,1056.58 L644.88,1056.3 L648.34,1056.02 L651.81,1055.76 L655.27,1055.5 L658.73,1055.25 L662.2,1055 L665.66,1054.77 L669.12,1054.54 L672.59,1054.32 L676.05,1054.1 L679.52,1053.9 L682.98,1053.7 L686.44,1053.5 L689.91,1053.32 L693.37,1053.14 L696.83,1052.96 L700.3,1052.8 L703.76,1052.63 L707.22,1052.48 L710.69,1052.33 L714.15,1052.18 L717.62,1052.04 L721.08,1051.91 L724.54,1051.78 L728.01,1051.66 L731.47,1051.54 L734.93,1051.42 L738.4,1051.32 L741.86,1051.21 L745.33,1051.11 L748.79,1051.01 L752.25,1050.92 L755.72,1050.83 L759.18,1050.75 L762.64,1050.67 L766.11,1050.59 L769.57,1050.51 L773.04,1050.44 L776.5,1050.38 L779.96,1050.31 L783.43,1050.25 L786.89,1050.19 L790.36,1050.14 L793.82,1050.08 L797.28,1050.03 L800.75,1049.98 L804.21,1049.94 L807.67,1049.89 L811.14,1049.85 L814.6,1049.81 L818.07,1049.78 L821.53,1049.74 L824.99,1049.71 L828.46,1049.67 L831.92,1049.64 L835.38,1049.62 L838.85,1049.59 L842.31,1049.56 L845.78,1049.54 L849.24,1049.52 L852.7,1049.49 L856.17,1049.47 L859.63,1049.45 L863.09,1049.44 L866.56,1049.42 L870.02,1049.4 L873.49,1049.39 L876.95,1049.37 L880.41,1049.36 L883.88,1049.35 L887.34,1049.33 L890.8,1049.32 L894.27,1049.31 L897.73,1049.3 L901.2,1049.29 L904.66,1049.28 L908.12,1049.28 L911.59,1049.27 L915.05,1049.26" stroke-width="9.8" stroke-dasharray="50.2 33.6 5.8 33.6"/>
<path d="M222.3,929.81 L225.76,929.81 L229.23,929.82 L232.69,929.84 L236.16,929.87 L239.62,929.9 L243.08,929.94 L246.55,929.99 L250.01,930.04 L253.47,930.11 L256.94,930.18 L260.4,930.26 L263.87,930.34 L267.33,930.43 L270.79,930.54 L274.26,930.64 L277.72,930.76 L281.18,930.88 L284.65,931.01 L288.11,931.15 L291.58,931.3 L295.04,931.45 L298.5,931.61 L301.97,931.78 L305.43,931.96 L308.89,932.14 L312.36,932.33 L315.82,932.53 L319.29,932.74 L322.75,932.95 L326.21,933.18 L329.68,933.41 L333.14,933.65 L336.6,933.89 L340.07,934.15 L343.53,934.41 L347,934.68 L350.46,934.96 L353.92,935.24 L357.39,935.54 L360.85,935.84 L364.31,936.15 L367.78,936.47 L371.24,936.8 L374.71,937.13 L378.17,937.48 L381.63,937.83 L385.1,938.19 L388.56,938.56 L392.02,938.94 L395.49,939.32 L398.95,939.72 L402.42,940.12 L405.88,940.54 L409.34,940.96 L412.81,941.39 L416.27,941.82 L419.73,942.27 L423.2,942.73 L426.66,943.19 L430.12,943.66 L433.59,944.15 L437.05,944.64 L440.52,945.14 L443.98,945.64 L447.44,946.16 L450.91,946.69 L454.37,947.22 L457.84,947.77 L461.3,948.32 L464.76,948.88 L468.23,949.45 L471.69,950.03 L475.15,950.62 L478.62,951.21 L482.08,951.82 L485.55,952.43 L489.01,953.05 L492.47,953.68 L495.94,954.32 L499.4,954.96 L502.86,955.62 L506.33,956.28 L509.79,956.95 L513.26,957.63 L516.72,958.31 L520.18,959 L523.65,959.7 L527.11,960.41 L530.57,961.13 L534.04,961.85 L537.5,962.58 L540.97,963.31 L544.43,964.05 L547.89,964.8 L551.36,965.56 L554.82,966.32 L558.28,967.08 L561.75,967.85 L565.21,968.63 L568.67,969.41 L572.14,970.2 L575.6,970.99 L579.07,971.78 L582.53,972.58 L585.99,973.39 L589.46,974.19 L592.92,975.01 L596.38,975.82 L599.85,976.64 L603.31,977.46 L606.78,978.28 L610.24,979.11 L613.7,979.93 L617.17,980.76 L620.63,981.59 L624.1,982.43 L627.56,983.26 L631.02,984.09 L634.49,984.93 L637.95,985.76 L641.41,986.59 L644.88,987.43 L648.34,988.26 L651.81,989.09 L655.27,989.92 L658.73,990.75 L662.2,991.58 L665.66,992.41 L669.12,993.23 L672.59,994.05 L676.05,994.87 L679.52,995.69 L682.98,996.5 L686.44,997.31 L689.91,998.12 L693.37,998.92 L696.83,999.72 L700.3,1000.52 L703.76,1001.31 L707.22,1002.09 L710.69,1002.87 L714.15,1003.65 L717.62,1004.42 L721.08,1005.18 L724.54,1005.94 L728.01,1006.7 L731.47,1007.44 L734.93,1008.19 L738.4,1008.92 L741.86,1009.65 L745.33,1010.37 L748.79,1011.09 L752.25,1011.8 L755.72,1012.5 L759.18,1013.2 L762.64,1013.88 L766.11,1014.56 L769.57,1015.24 L773.04,1015.9 L776.5,1016.56 L779.96,1017.21 L783.43,1017.85 L786.89,1018.49 L790.36,1019.12 L793.82,1019.74 L797.28,1020.35 L800.75,1020.95 L804.21,1021.55 L807.67,1022.13 L811.14,1022.71 L814.6,1023.28 L818.07,1023.85 L821.53,1024.4 L824.99,1024.95 L828.46,1025.49 L831.92,1026.02 L835.38,1026.54 L838.85,1027.05 L842.31,1027.56 L845.78,1028.05 L849.24,1028.54 L852.7,1029.02 L856.17,1029.5 L859.63,1029.96 L863.09,1030.42 L866.56,1030.87 L870.02,1031.31 L873.49,1031.74 L876.95,1032.17 L880.41,1032.58 L883.88,1032.99 L887.34,1033.4 L890.8,1033.79 L894.27,1034.18 L897.73,1034.56 L901.2,1034.93 L904.66,1035.29 L908.12,1035.65 L911.59,1036 L915.05,1036.34" stroke-width="13.7"/>
</g>
<g clip-path="url(#c3)" fill="none" stroke="#F14040" stroke-linecap="round" stroke-linejoin="round">
<path d="M952.6,1316.35 L956.06,1316.34 L959.53,1316.28 L962.99,1316.2 L966.46,1316.07 L969.92,1315.92 L973.38,1315.72 L976.85,1315.5 L980.31,1315.24 L983.77,1314.94 L987.24,1314.61 L990.7,1314.24 L994.17,1313.84 L997.63,1313.41 L1001.09,1312.94 L1004.56,1312.44 L1008.02,1311.91 L1011.48,1311.34 L1014.95,1310.74 L1018.41,1310.11 L1021.88,1309.44 L1025.34,1308.74 L1028.8,1308.01 L1032.27,1307.25 L1035.73,1306.46 L1039.19,1305.63 L1042.66,1304.78 L1046.12,1303.89 L1049.59,1302.97 L1053.05,1302.03 L1056.51,1301.05 L1059.98,1300.05 L1063.44,1299.01 L1066.9,1297.95 L1070.37,1296.86 L1073.83,1295.74 L1077.3,1294.6 L1080.76,1293.42 L1084.22,1292.23 L1087.69,1291 L1091.15,1289.75 L1094.61,1288.48 L1098.08,1287.18 L1101.54,1285.86 L1105.01,1284.51 L1108.47,1283.14 L1111.93,1281.75 L1115.4,1280.33 L1118.86,1278.89 L1122.32,1277.44 L1125.79,1275.96 L1129.25,1274.46 L1132.72,1272.94 L1136.18,1271.41 L1139.64,1269.85 L1143.11,1268.28 L1146.57,1266.69 L1150.03,1265.08 L1153.5,1263.45 L1156.96,1261.81 L1160.42,1260.16 L1163.89,1258.49 L1167.35,1256.8 L1170.82,1255.11 L1174.28,1253.39 L1177.74,1251.67 L1181.21,1249.94 L1184.67,1248.19 L1188.13,1246.43 L1191.6,1244.66 L1195.06,1242.88 L1198.53,1241.1 L1201.99,1239.3 L1205.45,1237.5 L1208.92,1235.68 L1212.38,1233.87 L1215.85,1232.04 L1219.31,1230.21 L1222.77,1228.37 L1226.24,1226.53 L1229.7,1224.69 L1233.16,1222.84 L1236.63,1220.98 L1240.09,1219.13 L1243.56,1217.27 L1247.02,1215.41 L1250.48,1213.55 L1253.95,1211.68 L1257.41,1209.82 L1260.87,1207.96 L1264.34,1206.1 L1267.8,1204.24 L1271.27,1202.38 L1274.73,1200.52 L1278.19,1198.67 L1281.66,1196.82 L1285.12,1194.97 L1288.58,1193.13 L1292.05,1191.29 L1295.51,1189.45 L1298.97,1187.62 L1302.44,1185.8 L1305.9,1183.98 L1309.37,1182.17 L1312.83,1180.37 L1316.29,1178.57 L1319.76,1176.78 L1323.22,1175 L1326.68,1173.22 L1330.15,1171.46 L1333.61,1169.7 L1337.08,1167.95 L1340.54,1166.22 L1344,1164.49 L1347.47,1162.77 L1350.93,1161.07 L1354.39,1159.37 L1357.86,1157.68 L1361.32,1156.01 L1364.79,1154.35 L1368.25,1152.7 L1371.71,1151.06 L1375.18,1149.44 L1378.64,1147.82 L1382.11,1146.22 L1385.57,1144.64 L1389.03,1143.06 L1392.5,1141.5 L1395.96,1139.96 L1399.42,1138.43 L1402.89,1136.91 L1406.35,1135.4 L1409.82,1133.91 L1413.28,1132.44 L1416.74,1130.98 L1420.21,1129.53 L1423.67,1128.1 L1427.13,1126.68 L1430.6,1125.28 L1434.06,1123.9 L1437.53,1122.52 L1440.99,1121.17 L1444.45,1119.83 L1447.92,1118.5 L1451.38,1117.2 L1454.84,1115.9 L1458.31,1114.63 L1461.77,1113.36 L1465.24,1112.12 L1468.7,1110.89 L1472.16,1109.67 L1475.63,1108.47 L1479.09,1107.29 L1482.55,1106.12 L1486.02,1104.97 L1489.48,1103.84 L1492.95,1102.72 L1496.41,1101.61 L1499.87,1100.53 L1503.34,1099.45 L1506.8,1098.4 L1510.26,1097.35 L1513.73,1096.33 L1517.19,1095.32 L1520.66,1094.32 L1524.12,1093.35 L1527.58,1092.38 L1531.05,1091.43 L1534.51,1090.5 L1537.97,1089.58 L1541.44,1088.68 L1544.9,1087.79 L1548.37,1086.91 L1551.83,1086.05 L1555.29,1085.21 L1558.76,1084.38 L1562.22,1083.56 L1565.68,1082.76 L1569.15,1081.98 L1572.61,1081.2 L1576.08,1080.44 L1579.54,1079.7 L1583,1078.97 L1586.47,1078.25 L1589.93,1077.54 L1593.39,1076.85 L1596.86,1076.17 L1600.32,1075.51 L1603.79,1074.85 L1607.25,1074.21 L1610.71,1073.58 L1614.18,1072.97 L1617.64,1072.37 L1621.1,1071.78 L1624.57,1071.2 L1628.03,1070.63 L1631.5,1070.08 L1634.96,1069.53 L1638.42,1069 L1641.89,1068.48 L1645.35,1067.97" stroke-width="9.8" stroke-dasharray="41.49 55.35 41.23 54.94 40.96 54.67 40.85 54.63 40.89 54.78 41.05 55.03 41.24 55.27 41.39 55.45"/>
<path d="M952.6,838.53 L956.06,838.55 L959.53,838.64 L962.99,838.77 L966.46,838.96 L969.92,839.21 L973.38,839.51 L976.85,839.86 L980.31,840.27 L983.77,840.73 L987.24,841.24 L990.7,841.81 L994.17,842.43 L997.63,843.1 L1001.09,843.82 L1004.56,844.59 L1008.02,845.42 L1011.48,846.29 L1014.95,847.22 L1018.41,848.19 L1021.88,849.22 L1025.34,850.29 L1028.8,851.4 L1032.27,852.57 L1035.73,853.78 L1039.19,855.04 L1042.66,856.34 L1046.12,857.68 L1049.59,859.07 L1053.05,860.49 L1056.51,861.96 L1059.98,863.47 L1063.44,865.02 L1066.9,866.61 L1070.37,868.23 L1073.83,869.89 L1077.3,871.59 L1080.76,873.32 L1084.22,875.08 L1087.69,876.87 L1091.15,878.69 L1094.61,880.55 L1098.08,882.43 L1101.54,884.34 L1105.01,886.27 L1108.47,888.23 L1111.93,890.22 L1115.4,892.22 L1118.86,894.25 L1122.32,896.3 L1125.79,898.36 L1129.25,900.44 L1132.72,902.54 L1136.18,904.65 L1139.64,906.78 L1143.11,908.92 L1146.57,911.07 L1150.03,913.23 L1153.5,915.39 L1156.96,917.57 L1160.42,919.74 L1163.89,921.93 L1167.35,924.11 L1170.82,926.3 L1174.28,928.49 L1177.74,930.68 L1181.21,932.87 L1184.67,935.05 L1188.13,937.23 L1191.6,939.4 L1195.06,941.57 L1198.53,943.73 L1201.99,945.88 L1205.45,948.02 L1208.92,950.15 L1212.38,952.27 L1215.85,954.37 L1219.31,956.46 L1222.77,958.54 L1226.24,960.6 L1229.7,962.64 L1233.16,964.66 L1236.63,966.67 L1240.09,968.65 L1243.56,970.62 L1247.02,972.56 L1250.48,974.49 L1253.95,976.39 L1257.41,978.26 L1260.87,980.11 L1264.34,981.94 L1267.8,983.75 L1271.27,985.52 L1274.73,987.28 L1278.19,989 L1281.66,990.7 L1285.12,992.37 L1288.58,994.02 L1292.05,995.63 L1295.51,997.22 L1298.97,998.78 L1302.44,1000.31 L1305.9,1001.81 L1309.37,1003.28 L1312.83,1004.72 L1316.29,1006.14 L1319.76,1007.52 L1323.22,1008.88 L1326.68,1010.2 L1330.15,1011.5 L1333.61,1012.77 L1337.08,1014 L1340.54,1015.21 L1344,1016.39 L1347.47,1017.54 L1350.93,1018.66 L1354.39,1019.76 L1357.86,1020.82 L1361.32,1021.86 L1364.79,1022.87 L1368.25,1023.85 L1371.71,1024.8 L1375.18,1025.73 L1378.64,1026.63 L1382.11,1027.51 L1385.57,1028.36 L1389.03,1029.18 L1392.5,1029.98 L1395.96,1030.75 L1399.42,1031.5 L1402.89,1032.23 L1406.35,1032.93 L1409.82,1033.61 L1413.28,1034.26 L1416.74,1034.9 L1420.21,1035.51 L1423.67,1036.1 L1427.13,1036.68 L1430.6,1037.23 L1434.06,1037.76 L1437.53,1038.27 L1440.99,1038.76 L1444.45,1039.24 L1447.92,1039.7 L1451.38,1040.13 L1454.84,1040.56 L1458.31,1040.96 L1461.77,1041.35 L1465.24,1041.73 L1468.7,1042.09 L1472.16,1042.43 L1475.63,1042.76 L1479.09,1043.08 L1482.55,1043.38 L1486.02,1043.67 L1489.48,1043.95 L1492.95,1044.22 L1496.41,1044.47 L1499.87,1044.72 L1503.34,1044.95 L1506.8,1045.17 L1510.26,1045.38 L1513.73,1045.58 L1517.19,1045.78 L1520.66,1045.96 L1524.12,1046.13 L1527.58,1046.3 L1531.05,1046.46 L1534.51,1046.61 L1537.97,1046.75 L1541.44,1046.89 L1544.9,1047.02 L1548.37,1047.14 L1551.83,1047.26 L1555.29,1047.37 L1558.76,1047.47 L1562.22,1047.57 L1565.68,1047.67 L1569.15,1047.76 L1572.61,1047.84 L1576.08,1047.92 L1579.54,1048 L1583,1048.07 L1586.47,1048.14 L1589.93,1048.2 L1593.39,1048.26 L1596.86,1048.32 L1600.32,1048.37 L1603.79,1048.42 L1607.25,1048.47 L1610.71,1048.51 L1614.18,1048.55 L1617.64,1048.59 L1621.1,1048.63 L1624.57,1048.67 L1628.03,1048.7 L1631.5,1048.73 L1634.96,1048.76 L1638.42,1048.79 L1641.89,1048.81 L1645.35,1048.83" stroke-width="9.8" stroke-dasharray="49.9 32.69 5.57 31.88 46.62 30.76 5.29 30.56 45.64 30.7 5.32 31.01 47.03 32.04 5.58 32.57 49.34 33.33 5.77 33.49 50.14 33.59 5.8 33.6 50.2 50"/>
<path d="M952.6,1106.26 L956.06,1106.27 L959.53,1106.3 L962.99,1106.35 L966.46,1106.42 L969.92,1106.5 L973.38,1106.61 L976.85,1106.74 L980.31,1106.88 L983.77,1107.04 L987.24,1107.23 L990.7,1107.43 L994.17,1107.65 L997.63,1107.88 L1001.09,1108.14 L1004.56,1108.41 L1008.02,1108.7 L1011.48,1109.01 L1014.95,1109.33 L1018.41,1109.67 L1021.88,1110.03 L1025.34,1110.4 L1028.8,1110.78 L1032.27,1111.18 L1035.73,1111.6 L1039.19,1112.03 L1042.66,1112.47 L1046.12,1112.93 L1049.59,1113.4 L1053.05,1113.88 L1056.51,1114.37 L1059.98,1114.87 L1063.44,1115.38 L1066.9,1115.9 L1070.37,1116.43 L1073.83,1116.97 L1077.3,1117.52 L1080.76,1118.08 L1084.22,1118.64 L1087.69,1119.2 L1091.15,1119.77 L1094.61,1120.35 L1098.08,1120.93 L1101.54,1121.51 L1105.01,1122.1 L1108.47,1122.69 L1111.93,1123.27 L1115.4,1123.86 L1118.86,1124.45 L1122.32,1125.04 L1125.79,1125.62 L1129.25,1126.2 L1132.72,1126.78 L1136.18,1127.35 L1139.64,1127.92 L1143.11,1128.48 L1146.57,1129.03 L1150.03,1129.58 L1153.5,1130.12 L1156.96,1130.65 L1160.42,1131.17 L1163.89,1131.68 L1167.35,1132.18 L1170.82,1132.67 L1174.28,1133.14 L1177.74,1133.6 L1181.21,1134.05 L1184.67,1134.48 L1188.13,1134.9 L1191.6,1135.3 L1195.06,1135.69 L1198.53,1136.06 L1201.99,1136.41 L1205.45,1136.74 L1208.92,1137.05 L1212.38,1137.35 L1215.85,1137.62 L1219.31,1137.88 L1222.77,1138.11 L1226.24,1138.33 L1229.7,1138.52 L1233.16,1138.69 L1236.63,1138.84 L1240.09,1138.96 L1243.56,1139.07 L1247.02,1139.15 L1250.48,1139.2 L1253.95,1139.24 L1257.41,1139.25 L1260.87,1139.24 L1264.34,1139.2 L1267.8,1139.14 L1271.27,1139.05 L1274.73,1138.95 L1278.19,1138.81 L1281.66,1138.66 L1285.12,1138.48 L1288.58,1138.27 L1292.05,1138.05 L1295.51,1137.8 L1298.97,1137.52 L1302.44,1137.22 L1305.9,1136.9 L1309.37,1136.56 L1312.83,1136.2 L1316.29,1135.81 L1319.76,1135.4 L1323.22,1134.97 L1326.68,1134.52 L1330.15,1134.04 L1333.61,1133.55 L1337.08,1133.04 L1340.54,1132.51 L1344,1131.95 L1347.47,1131.38 L1350.93,1130.79 L1354.39,1130.19 L1357.86,1129.57 L1361.32,1128.93 L1364.79,1128.27 L1368.25,1127.6 L1371.71,1126.91 L1375.18,1126.21 L1378.64,1125.5 L1382.11,1124.77 L1385.57,1124.03 L1389.03,1123.27 L1392.5,1122.51 L1395.96,1121.73 L1399.42,1120.95 L1402.89,1120.15 L1406.35,1119.35 L1409.82,1118.53 L1413.28,1117.71 L1416.74,1116.88 L1420.21,1116.05 L1423.67,1115.2 L1427.13,1114.36 L1430.6,1113.5 L1434.06,1112.64 L1437.53,1111.78 L1440.99,1110.92 L1444.45,1110.05 L1447.92,1109.18 L1451.38,1108.31 L1454.84,1107.44 L1458.31,1106.56 L1461.77,1105.69 L1465.24,1104.81 L1468.7,1103.94 L1472.16,1103.07 L1475.63,1102.2 L1479.09,1101.33 L1482.55,1100.46 L1486.02,1099.6 L1489.48,1098.74 L1492.95,1097.88 L1496.41,1097.03 L1499.87,1096.19 L1503.34,1095.34 L1506.8,1094.51 L1510.26,1093.67 L1513.73,1092.85 L1517.19,1092.03 L1520.66,1091.22 L1524.12,1090.41 L1527.58,1089.61 L1531.05,1088.82 L1534.51,1088.03 L1537.97,1087.25 L1541.44,1086.49 L1544.9,1085.72 L1548.37,1084.97 L1551.83,1084.23 L1555.29,1083.49 L1558.76,1082.76 L1562.22,1082.05 L1565.68,1081.34 L1569.15,1080.64 L1572.61,1079.95 L1576.08,1079.27 L1579.54,1078.59 L1583,1077.93 L1586.47,1077.28 L1589.93,1076.64 L1593.39,1076 L1596.86,1075.38 L1600.32,1074.77 L1603.79,1074.16 L1607.25,1073.57 L1610.71,1072.99 L1614.18,1072.41 L1617.64,1071.85 L1621.1,1071.29 L1624.57,1070.75 L1628.03,1070.21 L1631.5,1069.69 L1634.96,1069.17 L1638.42,1068.66 L1641.89,1068.17 L1645.35,1067.68" stroke-width="13.7"/>
</g>
<g clip-path="url(#c4)" fill="none" stroke="#37AD6B" stroke-linecap="round" stroke-linejoin="round">
<path d="M222.3,1714.79 L225.76,1714.79 L229.23,1714.79 L232.69,1714.79 L236.16,1714.79 L239.62,1714.78 L243.08,1714.78 L246.55,1714.77 L250.01,1714.77 L253.47,1714.76 L256.94,1714.75 L260.4,1714.75 L263.87,1714.74 L267.33,1714.73 L270.79,1714.72 L274.26,1714.71 L277.72,1714.7 L281.18,1714.68 L284.65,1714.67 L288.11,1714.66 L291.58,1714.64 L295.04,1714.63 L298.5,1714.61 L301.97,1714.59 L305.43,1714.58 L308.89,1714.56 L312.36,1714.54 L315.82,1714.52 L319.29,1714.5 L322.75,1714.48 L326.21,1714.46 L329.68,1714.44 L333.14,1714.41 L336.6,1714.39 L340.07,1714.37 L343.53,1714.34 L347,1714.32 L350.46,1714.29 L353.92,1714.27 L357.39,1714.24 L360.85,1714.21 L364.31,1714.18 L367.78,1714.16 L371.24,1714.13 L374.71,1714.1 L378.17,1714.07 L381.63,1714.04 L385.1,1714.01 L388.56,1713.98 L392.02,1713.94 L395.49,1713.91 L398.95,1713.88 L402.42,1713.85 L405.88,1713.81 L409.34,1713.78 L412.81,1713.74 L416.27,1713.71 L419.73,1713.67 L423.2,1713.64 L426.66,1713.6 L430.12,1713.57 L433.59,1713.53 L437.05,1713.49 L440.52,1713.46 L443.98,1713.42 L447.44,1713.38 L450.91,1713.34 L454.37,1713.31 L457.84,1713.27 L461.3,1713.23 L464.76,1713.19 L468.23,1713.15 L471.69,1713.11 L475.15,1713.07 L478.62,1713.03 L482.08,1712.99 L485.55,1712.95 L489.01,1712.91 L492.47,1712.87 L495.94,1712.83 L499.4,1712.79 L502.86,1712.75 L506.33,1712.71 L509.79,1712.67 L513.26,1712.63 L516.72,1712.59 L520.18,1712.55 L523.65,1712.51 L527.11,1712.47 L530.57,1712.43 L534.04,1712.39 L537.5,1712.35 L540.97,1712.31 L544.43,1712.26 L547.89,1712.22 L551.36,1712.18 L554.82,1712.14 L558.28,1712.1 L561.75,1712.06 L565.21,1712.02 L568.67,1711.98 L572.14,1711.94 L575.6,1711.9 L579.07,1711.86 L582.53,1711.82 L585.99,1711.79 L589.46,1711.75 L592.92,1711.71 L596.38,1711.67 L599.85,1711.63 L603.31,1711.59 L606.78,1711.55 L610.24,1711.52 L613.7,1711.48 L617.17,1711.44 L620.63,1711.4 L624.1,1711.37 L627.56,1711.33 L631.02,1711.29 L634.49,1711.26 L637.95,1711.22 L641.41,1711.19 L644.88,1711.15 L648.34,1711.11 L651.81,1711.08 L655.27,1711.04 L658.73,1711.01 L662.2,1710.98 L665.66,1710.94 L669.12,1710.91 L672.59,1710.88 L676.05,1710.84 L679.52,1710.81 L682.98,1710.78 L686.44,1710.75 L689.91,1710.72 L693.37,1710.68 L696.83,1710.65 L700.3,1710.62 L703.76,1710.59 L707.22,1710.56 L710.69,1710.53 L714.15,1710.5 L717.62,1710.47 L721.08,1710.45 L724.54,1710.42 L728.01,1710.39 L731.47,1710.36 L734.93,1710.34 L738.4,1710.31 L741.86,1710.28 L745.33,1710.26 L748.79,1710.23 L752.25,1710.2 L755.72,1710.18 L759.18,1710.15 L762.64,1710.13 L766.11,1710.11 L769.57,1710.08 L773.04,1710.06 L776.5,1710.04 L779.96,1710.01 L783.43,1709.99 L786.89,1709.97 L790.36,1709.95 L793.82,1709.93 L797.28,1709.9 L800.75,1709.88 L804.21,1709.86 L807.67,1709.84 L811.14,1709.82 L814.6,1709.8 L818.07,1709.78 L821.53,1709.77 L824.99,1709.75 L828.46,1709.73 L831.92,1709.71 L835.38,1709.69 L838.85,1709.68 L842.31,1709.66 L845.78,1709.64 L849.24,1709.63 L852.7,1709.61 L856.17,1709.6 L859.63,1709.58 L863.09,1709.57 L866.56,1709.55 L870.02,1709.54 L873.49,1709.52 L876.95,1709.51 L880.41,1709.49 L883.88,1709.48 L887.34,1709.47 L890.8,1709.45 L894.27,1709.44 L897.73,1709.43 L901.2,1709.42 L904.66,1709.41 L908.12,1709.39 L911.59,1709.38 L915.05,1709.37" stroke-width="9.8" stroke-dasharray="41.75 55.83"/>
<path d="M222.3,1624.87 L225.76,1624.88 L229.23,1624.91 L232.69,1624.97 L236.16,1625.04 L239.62,1625.14 L243.08,1625.26 L246.55,1625.4 L250.01,1625.56 L253.47,1625.75 L256.94,1625.95 L260.4,1626.18 L263.87,1626.43 L267.33,1626.69 L270.79,1626.98 L274.26,1627.29 L277.72,1627.62 L281.18,1627.97 L284.65,1628.34 L288.11,1628.73 L291.58,1629.14 L295.04,1629.56 L298.5,1630.01 L301.97,1630.48 L305.43,1630.96 L308.89,1631.46 L312.36,1631.98 L315.82,1632.52 L319.29,1633.07 L322.75,1633.64 L326.21,1634.23 L329.68,1634.83 L333.14,1635.45 L336.6,1636.08 L340.07,1636.73 L343.53,1637.39 L347,1638.07 L350.46,1638.76 L353.92,1639.46 L357.39,1640.18 L360.85,1640.91 L364.31,1641.65 L367.78,1642.4 L371.24,1643.16 L374.71,1643.93 L378.17,1644.71 L381.63,1645.51 L385.1,1646.31 L388.56,1647.12 L392.02,1647.93 L395.49,1648.76 L398.95,1649.59 L402.42,1650.43 L405.88,1651.27 L409.34,1652.12 L412.81,1652.97 L416.27,1653.83 L419.73,1654.69 L423.2,1655.56 L426.66,1656.42 L430.12,1657.29 L433.59,1658.17 L437.05,1659.04 L440.52,1659.91 L443.98,1660.79 L447.44,1661.66 L450.91,1662.53 L454.37,1663.41 L457.84,1664.28 L461.3,1665.14 L464.76,1666.01 L468.23,1666.87 L471.69,1667.73 L475.15,1668.58 L478.62,1669.43 L482.08,1670.28 L485.55,1671.12 L489.01,1671.95 L492.47,1672.78 L495.94,1673.6 L499.4,1674.42 L502.86,1675.23 L506.33,1676.03 L509.79,1676.82 L513.26,1677.6 L516.72,1678.38 L520.18,1679.15 L523.65,1679.91 L527.11,1680.66 L530.57,1681.4 L534.04,1682.13 L537.5,1682.85 L540.97,1683.56 L544.43,1684.26 L547.89,1684.94 L551.36,1685.62 L554.82,1686.29 L558.28,1686.95 L561.75,1687.59 L565.21,1688.22 L568.67,1688.85 L572.14,1689.46 L575.6,1690.06 L579.07,1690.64 L582.53,1691.22 L585.99,1691.79 L589.46,1692.34 L592.92,1692.88 L596.38,1693.41 L599.85,1693.93 L603.31,1694.43 L606.78,1694.93 L610.24,1695.41 L613.7,1695.88 L617.17,1696.34 L620.63,1696.79 L624.1,1697.22 L627.56,1697.65 L631.02,1698.06 L634.49,1698.46 L637.95,1698.86 L641.41,1699.24 L644.88,1699.61 L648.34,1699.97 L651.81,1700.32 L655.27,1700.65 L658.73,1700.98 L662.2,1701.3 L665.66,1701.61 L669.12,1701.91 L672.59,1702.2 L676.05,1702.48 L679.52,1702.75 L682.98,1703.01 L686.44,1703.27 L689.91,1703.51 L693.37,1703.75 L696.83,1703.98 L700.3,1704.2 L703.76,1704.41 L707.22,1704.61 L710.69,1704.81 L714.15,1705 L717.62,1705.18 L721.08,1705.36 L724.54,1705.53 L728.01,1705.69 L731.47,1705.84 L734.93,1705.99 L738.4,1706.14 L741.86,1706.27 L745.33,1706.41 L748.79,1706.53 L752.25,1706.65 L755.72,1706.77 L759.18,1706.88 L762.64,1706.99 L766.11,1707.09 L769.57,1707.19 L773.04,1707.28 L776.5,1707.37 L779.96,1707.45 L783.43,1707.53 L786.89,1707.61 L790.36,1707.68 L793.82,1707.75 L797.28,1707.82 L800.75,1707.88 L804.21,1707.94 L807.67,1708 L811.14,1708.05 L814.6,1708.11 L818.07,1708.15 L821.53,1708.2 L824.99,1708.25 L828.46,1708.29 L831.92,1708.33 L835.38,1708.36 L838.85,1708.4 L842.31,1708.43 L845.78,1708.47 L849.24,1708.5 L852.7,1708.52 L856.17,1708.55 L859.63,1708.58 L863.09,1708.6 L866.56,1708.62 L870.02,1708.64 L873.49,1708.66 L876.95,1708.68 L880.41,1708.7 L883.88,1708.72 L887.34,1708.73 L890.8,1708.75 L894.27,1708.76 L897.73,1708.78 L901.2,1708.79 L904.66,1708.8 L908.12,1708.81 L911.59,1708.82 L915.05,1708.83" stroke-width="9.8" stroke-dasharray="50.2 33.6 5.8 33.6"/>
<path d="M222.3,1630.7 L225.76,1630.71 L229.23,1630.74 L232.69,1630.8 L236.16,1630.87 L239.62,1630.96 L243.08,1631.08 L246.55,1631.22 L250.01,1631.37 L253.47,1631.55 L256.94,1631.75 L260.4,1631.97 L263.87,1632.2 L267.33,1632.46 L270.79,1632.74 L274.26,1633.04 L277.72,1633.36 L281.18,1633.69 L284.65,1634.05 L288.11,1634.42 L291.58,1634.82 L295.04,1635.23 L298.5,1635.66 L301.97,1636.11 L305.43,1636.58 L308.89,1637.06 L312.36,1637.56 L315.82,1638.08 L319.29,1638.61 L322.75,1639.16 L326.21,1639.73 L329.68,1640.31 L333.14,1640.9 L336.6,1641.51 L340.07,1642.14 L343.53,1642.77 L347,1643.43 L350.46,1644.09 L353.92,1644.77 L357.39,1645.46 L360.85,1646.16 L364.31,1646.87 L367.78,1647.59 L371.24,1648.33 L374.71,1649.07 L378.17,1649.82 L381.63,1650.58 L385.1,1651.35 L388.56,1652.13 L392.02,1652.92 L395.49,1653.71 L398.95,1654.51 L402.42,1655.31 L405.88,1656.12 L409.34,1656.94 L412.81,1657.75 L416.27,1658.58 L419.73,1659.4 L423.2,1660.23 L426.66,1661.07 L430.12,1661.9 L433.59,1662.74 L437.05,1663.57 L440.52,1664.41 L443.98,1665.24 L447.44,1666.08 L450.91,1666.92 L454.37,1667.75 L457.84,1668.58 L461.3,1669.41 L464.76,1670.24 L468.23,1671.06 L471.69,1671.88 L475.15,1672.69 L478.62,1673.5 L482.08,1674.31 L485.55,1675.11 L489.01,1675.9 L492.47,1676.69 L495.94,1677.47 L499.4,1678.25 L502.86,1679.02 L506.33,1679.78 L509.79,1680.53 L513.26,1681.27 L516.72,1682.01 L520.18,1682.74 L523.65,1683.45 L527.11,1684.16 L530.57,1684.86 L534.04,1685.55 L537.5,1686.23 L540.97,1686.9 L544.43,1687.56 L547.89,1688.21 L551.36,1688.85 L554.82,1689.47 L558.28,1690.09 L561.75,1690.69 L565.21,1691.29 L568.67,1691.87 L572.14,1692.44 L575.6,1693 L579.07,1693.55 L582.53,1694.08 L585.99,1694.61 L589.46,1695.12 L592.92,1695.63 L596.38,1696.12 L599.85,1696.59 L603.31,1697.06 L606.78,1697.52 L610.24,1697.96 L613.7,1698.4 L617.17,1698.82 L620.63,1699.23 L624.1,1699.63 L627.56,1700.02 L631.02,1700.39 L634.49,1700.76 L637.95,1701.12 L641.41,1701.46 L644.88,1701.8 L648.34,1702.12 L651.81,1702.43 L655.27,1702.74 L658.73,1703.03 L662.2,1703.32 L665.66,1703.59 L669.12,1703.86 L672.59,1704.12 L676.05,1704.36 L679.52,1704.6 L682.98,1704.83 L686.44,1705.05 L689.91,1705.27 L693.37,1705.47 L696.83,1705.67 L700.3,1705.86 L703.76,1706.04 L707.22,1706.21 L710.69,1706.38 L714.15,1706.54 L717.62,1706.7 L721.08,1706.84 L724.54,1706.98 L728.01,1707.12 L731.47,1707.25 L734.93,1707.37 L738.4,1707.48 L741.86,1707.6 L745.33,1707.7 L748.79,1707.8 L752.25,1707.9 L755.72,1707.99 L759.18,1708.08 L762.64,1708.16 L766.11,1708.23 L769.57,1708.31 L773.04,1708.38 L776.5,1708.44 L779.96,1708.5 L783.43,1708.56 L786.89,1708.62 L790.36,1708.67 L793.82,1708.72 L797.28,1708.76 L800.75,1708.81 L804.21,1708.84 L807.67,1708.88 L811.14,1708.92 L814.6,1708.95 L818.07,1708.98 L821.53,1709.01 L824.99,1709.03 L828.46,1709.06 L831.92,1709.08 L835.38,1709.1 L838.85,1709.12 L842.31,1709.13 L845.78,1709.15 L849.24,1709.16 L852.7,1709.17 L856.17,1709.19 L859.63,1709.2 L863.09,1709.21 L866.56,1709.21 L870.02,1709.22 L873.49,1709.23 L876.95,1709.23 L880.41,1709.23 L883.88,1709.24 L887.34,1709.24 L890.8,1709.24 L894.27,1709.24 L897.73,1709.24 L901.2,1709.25 L904.66,1709.24 L908.12,1709.24 L911.59,1709.24 L915.05,1709.24" stroke-width="13.7"/>
</g>
<g clip-path="url(#c5)" fill="none" stroke="#B177DE" stroke-linecap="round" stroke-linejoin="round">
<path d="M952.6,1641.28 L956.06,1641.29 L959.53,1641.3 L962.99,1641.32 L966.46,1641.35 L969.92,1641.39 L973.38,1641.44 L976.85,1641.5 L980.31,1641.56 L983.77,1641.64 L987.24,1641.72 L990.7,1641.82 L994.17,1641.92 L997.63,1642.03 L1001.09,1642.14 L1004.56,1642.27 L1008.02,1642.41 L1011.48,1642.55 L1014.95,1642.7 L1018.41,1642.86 L1021.88,1643.03 L1025.34,1643.21 L1028.8,1643.39 L1032.27,1643.59 L1035.73,1643.79 L1039.19,1644 L1042.66,1644.21 L1046.12,1644.44 L1049.59,1644.67 L1053.05,1644.91 L1056.51,1645.16 L1059.98,1645.41 L1063.44,1645.67 L1066.9,1645.94 L1070.37,1646.22 L1073.83,1646.5 L1077.3,1646.79 L1080.76,1647.09 L1084.22,1647.39 L1087.69,1647.7 L1091.15,1648.02 L1094.61,1648.34 L1098.08,1648.67 L1101.54,1649.01 L1105.01,1649.35 L1108.47,1649.69 L1111.93,1650.05 L1115.4,1650.41 L1118.86,1650.77 L1122.32,1651.14 L1125.79,1651.51 L1129.25,1651.89 L1132.72,1652.28 L1136.18,1652.67 L1139.64,1653.06 L1143.11,1653.46 L1146.57,1653.86 L1150.03,1654.27 L1153.5,1654.68 L1156.96,1655.1 L1160.42,1655.52 L1163.89,1655.94 L1167.35,1656.36 L1170.82,1656.8 L1174.28,1657.23 L1177.74,1657.67 L1181.21,1658.1 L1184.67,1658.55 L1188.13,1658.99 L1191.6,1659.44 L1195.06,1659.89 L1198.53,1660.34 L1201.99,1660.8 L1205.45,1661.26 L1208.92,1661.71 L1212.38,1662.18 L1215.85,1662.64 L1219.31,1663.1 L1222.77,1663.57 L1226.24,1664.03 L1229.7,1664.5 L1233.16,1664.97 L1236.63,1665.44 L1240.09,1665.91 L1243.56,1666.38 L1247.02,1666.85 L1250.48,1667.32 L1253.95,1667.79 L1257.41,1668.27 L1260.87,1668.74 L1264.34,1669.21 L1267.8,1669.68 L1271.27,1670.15 L1274.73,1670.62 L1278.19,1671.09 L1281.66,1671.56 L1285.12,1672.03 L1288.58,1672.49 L1292.05,1672.96 L1295.51,1673.43 L1298.97,1673.89 L1302.44,1674.35 L1305.9,1674.81 L1309.37,1675.27 L1312.83,1675.73 L1316.29,1676.18 L1319.76,1676.64 L1323.22,1677.09 L1326.68,1677.54 L1330.15,1677.98 L1333.61,1678.43 L1337.08,1678.87 L1340.54,1679.31 L1344,1679.75 L1347.47,1680.18 L1350.93,1680.62 L1354.39,1681.05 L1357.86,1681.47 L1361.32,1681.9 L1364.79,1682.32 L1368.25,1682.73 L1371.71,1683.15 L1375.18,1683.56 L1378.64,1683.97 L1382.11,1684.37 L1385.57,1684.78 L1389.03,1685.18 L1392.5,1685.57 L1395.96,1685.96 L1399.42,1686.35 L1402.89,1686.73 L1406.35,1687.12 L1409.82,1687.49 L1413.28,1687.87 L1416.74,1688.24 L1420.21,1688.6 L1423.67,1688.97 L1427.13,1689.32 L1430.6,1689.68 L1434.06,1690.03 L1437.53,1690.38 L1440.99,1690.72 L1444.45,1691.06 L1447.92,1691.4 L1451.38,1691.73 L1454.84,1692.06 L1458.31,1692.38 L1461.77,1692.7 L1465.24,1693.01 L1468.7,1693.33 L1472.16,1693.63 L1475.63,1693.94 L1479.09,1694.24 L1482.55,1694.53 L1486.02,1694.82 L1489.48,1695.11 L1492.95,1695.39 L1496.41,1695.67 L1499.87,1695.95 L1503.34,1696.22 L1506.8,1696.49 L1510.26,1696.75 L1513.73,1697.01 L1517.19,1697.27 L1520.66,1697.52 L1524.12,1697.77 L1527.58,1698.01 L1531.05,1698.25 L1534.51,1698.49 L1537.97,1698.72 L1541.44,1698.95 L1544.9,1699.18 L1548.37,1699.4 L1551.83,1699.62 L1555.29,1699.83 L1558.76,1700.04 L1562.22,1700.25 L1565.68,1700.45 L1569.15,1700.65 L1572.61,1700.84 L1576.08,1701.04 L1579.54,1701.23 L1583,1701.41 L1586.47,1701.59 L1589.93,1701.77 L1593.39,1701.95 L1596.86,1702.12 L1600.32,1702.29 L1603.79,1702.45 L1607.25,1702.62 L1610.71,1702.77 L1614.18,1702.93 L1617.64,1703.08 L1621.1,1703.23 L1624.57,1703.38 L1628.03,1703.52 L1631.5,1703.66 L1634.96,1703.8 L1638.42,1703.94 L1641.89,1704.07 L1645.35,1704.2" stroke-width="9.8" stroke-dasharray="41.5 55.5"/>
<path d="M952.6,1721.3 L956.06,1721.3 L959.53,1721.3 L962.99,1721.29 L966.46,1721.28 L969.92,1721.26 L973.38,1721.25 L976.85,1721.23 L980.31,1721.2 L983.77,1721.17 L987.24,1721.14 L990.7,1721.11 L994.17,1721.07 L997.63,1721.04 L1001.09,1720.99 L1004.56,1720.95 L1008.02,1720.9 L1011.48,1720.85 L1014.95,1720.79 L1018.41,1720.74 L1021.88,1720.68 L1025.34,1720.61 L1028.8,1720.55 L1032.27,1720.48 L1035.73,1720.41 L1039.19,1720.34 L1042.66,1720.26 L1046.12,1720.18 L1049.59,1720.1 L1053.05,1720.02 L1056.51,1719.93 L1059.98,1719.84 L1063.44,1719.75 L1066.9,1719.66 L1070.37,1719.56 L1073.83,1719.47 L1077.3,1719.37 L1080.76,1719.26 L1084.22,1719.16 L1087.69,1719.06 L1091.15,1718.95 L1094.61,1718.84 L1098.08,1718.73 L1101.54,1718.62 L1105.01,1718.51 L1108.47,1718.39 L1111.93,1718.27 L1115.4,1718.16 L1118.86,1718.04 L1122.32,1717.92 L1125.79,1717.8 L1129.25,1717.68 L1132.72,1717.55 L1136.18,1717.43 L1139.64,1717.3 L1143.11,1717.18 L1146.57,1717.05 L1150.03,1716.93 L1153.5,1716.8 L1156.96,1716.67 L1160.42,1716.54 L1163.89,1716.42 L1167.35,1716.29 L1170.82,1716.16 L1174.28,1716.03 L1177.74,1715.9 L1181.21,1715.78 L1184.67,1715.65 L1188.13,1715.52 L1191.6,1715.39 L1195.06,1715.27 L1198.53,1715.14 L1201.99,1715.01 L1205.45,1714.89 L1208.92,1714.76 L1212.38,1714.64 L1215.85,1714.52 L1219.31,1714.39 L1222.77,1714.27 L1226.24,1714.15 L1229.7,1714.03 L1233.16,1713.91 L1236.63,1713.79 L1240.09,1713.68 L1243.56,1713.56 L1247.02,1713.45 L1250.48,1713.34 L1253.95,1713.23 L1257.41,1713.12 L1260.87,1713.01 L1264.34,1712.9 L1267.8,1712.79 L1271.27,1712.69 L1274.73,1712.59 L1278.19,1712.49 L1281.66,1712.39 L1285.12,1712.29 L1288.58,1712.19 L1292.05,1712.1 L1295.51,1712 L1298.97,1711.91 L1302.44,1711.82 L1305.9,1711.74 L1309.37,1711.65 L1312.83,1711.56 L1316.29,1711.48 L1319.76,1711.4 L1323.22,1711.32 L1326.68,1711.24 L1330.15,1711.17 L1333.61,1711.09 L1337.08,1711.02 L1340.54,1710.95 L1344,1710.88 L1347.47,1710.81 L1350.93,1710.75 L1354.39,1710.68 L1357.86,1710.62 L1361.32,1710.56 L1364.79,1710.5 L1368.25,1710.44 L1371.71,1710.39 L1375.18,1710.33 L1378.64,1710.28 L1382.11,1710.23 L1385.57,1710.18 L1389.03,1710.13 L1392.5,1710.08 L1395.96,1710.04 L1399.42,1710 L1402.89,1709.95 L1406.35,1709.91 L1409.82,1709.87 L1413.28,1709.83 L1416.74,1709.8 L1420.21,1709.76 L1423.67,1709.73 L1427.13,1709.69 L1430.6,1709.66 L1434.06,1709.63 L1437.53,1709.6 L1440.99,1709.57 L1444.45,1709.54 L1447.92,1709.52 L1451.38,1709.49 L1454.84,1709.46 L1458.31,1709.44 L1461.77,1709.42 L1465.24,1709.4 L1468.7,1709.38 L1472.16,1709.36 L1475.63,1709.34 L1479.09,1709.32 L1482.55,1709.3 L1486.02,1709.28 L1489.48,1709.27 L1492.95,1709.25 L1496.41,1709.24 L1499.87,1709.22 L1503.34,1709.21 L1506.8,1709.19 L1510.26,1709.18 L1513.73,1709.17 L1517.19,1709.16 L1520.66,1709.15 L1524.12,1709.14 L1527.58,1709.13 L1531.05,1709.12 L1534.51,1709.11 L1537.97,1709.1 L1541.44,1709.09 L1544.9,1709.09 L1548.37,1709.08 L1551.83,1709.07 L1555.29,1709.07 L1558.76,1709.06 L1562.22,1709.05 L1565.68,1709.05 L1569.15,1709.04 L1572.61,1709.04 L1576.08,1709.03 L1579.54,1709.03 L1583,1709.02 L1586.47,1709.02 L1589.93,1709.02 L1593.39,1709.01 L1596.86,1709.01 L1600.32,1709.01 L1603.79,1709 L1607.25,1709 L1610.71,1709 L1614.18,1709 L1617.64,1708.99 L1621.1,1708.99 L1624.57,1708.99 L1628.03,1708.99 L1631.5,1708.99 L1634.96,1708.98 L1638.42,1708.98 L1641.89,1708.98 L1645.35,1708.98" stroke-width="9.8" stroke-dasharray="50.05 33.5 5.78 33.5"/>
<path d="M952.6,1653.08 L956.06,1653.08 L959.53,1653.09 L962.99,1653.11 L966.46,1653.13 L969.92,1653.15 L973.38,1653.18 L976.85,1653.22 L980.31,1653.26 L983.77,1653.31 L987.24,1653.37 L990.7,1653.43 L994.17,1653.49 L997.63,1653.56 L1001.09,1653.64 L1004.56,1653.72 L1008.02,1653.81 L1011.48,1653.91 L1014.95,1654 L1018.41,1654.11 L1021.88,1654.22 L1025.34,1654.33 L1028.8,1654.46 L1032.27,1654.58 L1035.73,1654.71 L1039.19,1654.85 L1042.66,1654.99 L1046.12,1655.14 L1049.59,1655.29 L1053.05,1655.45 L1056.51,1655.61 L1059.98,1655.78 L1063.44,1655.96 L1066.9,1656.13 L1070.37,1656.32 L1073.83,1656.51 L1077.3,1656.7 L1080.76,1656.9 L1084.22,1657.1 L1087.69,1657.31 L1091.15,1657.52 L1094.61,1657.74 L1098.08,1657.96 L1101.54,1658.18 L1105.01,1658.41 L1108.47,1658.65 L1111.93,1658.89 L1115.4,1659.13 L1118.86,1659.38 L1122.32,1659.63 L1125.79,1659.89 L1129.25,1660.15 L1132.72,1660.41 L1136.18,1660.68 L1139.64,1660.96 L1143.11,1661.23 L1146.57,1661.51 L1150.03,1661.8 L1153.5,1662.08 L1156.96,1662.38 L1160.42,1662.67 L1163.89,1662.97 L1167.35,1663.27 L1170.82,1663.58 L1174.28,1663.88 L1177.74,1664.2 L1181.21,1664.51 L1184.67,1664.83 L1188.13,1665.15 L1191.6,1665.47 L1195.06,1665.8 L1198.53,1666.13 L1201.99,1666.46 L1205.45,1666.8 L1208.92,1667.14 L1212.38,1667.48 L1215.85,1667.82 L1219.31,1668.17 L1222.77,1668.51 L1226.24,1668.86 L1229.7,1669.21 L1233.16,1669.57 L1236.63,1669.92 L1240.09,1670.28 L1243.56,1670.64 L1247.02,1671 L1250.48,1671.36 L1253.95,1671.73 L1257.41,1672.09 L1260.87,1672.46 L1264.34,1672.83 L1267.8,1673.2 L1271.27,1673.57 L1274.73,1673.94 L1278.19,1674.31 L1281.66,1674.69 L1285.12,1675.06 L1288.58,1675.43 L1292.05,1675.81 L1295.51,1676.18 L1298.97,1676.56 L1302.44,1676.94 L1305.9,1677.31 L1309.37,1677.69 L1312.83,1678.06 L1316.29,1678.44 L1319.76,1678.82 L1323.22,1679.19 L1326.68,1679.57 L1330.15,1679.94 L1333.61,1680.32 L1337.08,1680.69 L1340.54,1681.06 L1344,1681.43 L1347.47,1681.81 L1350.93,1682.18 L1354.39,1682.54 L1357.86,1682.91 L1361.32,1683.28 L1364.79,1683.64 L1368.25,1684.01 L1371.71,1684.37 L1375.18,1684.73 L1378.64,1685.09 L1382.11,1685.45 L1385.57,1685.8 L1389.03,1686.16 L1392.5,1686.51 L1395.96,1686.86 L1399.42,1687.2 L1402.89,1687.55 L1406.35,1687.89 L1409.82,1688.23 L1413.28,1688.57 L1416.74,1688.91 L1420.21,1689.24 L1423.67,1689.57 L1427.13,1689.9 L1430.6,1690.22 L1434.06,1690.55 L1437.53,1690.87 L1440.99,1691.18 L1444.45,1691.5 L1447.92,1691.81 L1451.38,1692.12 L1454.84,1692.42 L1458.31,1692.73 L1461.77,1693.03 L1465.24,1693.32 L1468.7,1693.61 L1472.16,1693.9 L1475.63,1694.19 L1479.09,1694.47 L1482.55,1694.75 L1486.02,1695.03 L1489.48,1695.31 L1492.95,1695.58 L1496.41,1695.84 L1499.87,1696.11 L1503.34,1696.37 L1506.8,1696.62 L1510.26,1696.88 L1513.73,1697.13 L1517.19,1697.37 L1520.66,1697.62 L1524.12,1697.86 L1527.58,1698.09 L1531.05,1698.33 L1534.51,1698.56 L1537.97,1698.78 L1541.44,1699 L1544.9,1699.22 L1548.37,1699.44 L1551.83,1699.65 L1555.29,1699.86 L1558.76,1700.07 L1562.22,1700.27 L1565.68,1700.47 L1569.15,1700.66 L1572.61,1700.86 L1576.08,1701.05 L1579.54,1701.23 L1583,1701.42 L1586.47,1701.59 L1589.93,1701.77 L1593.39,1701.94 L1596.86,1702.11 L1600.32,1702.28 L1603.79,1702.44 L1607.25,1702.61 L1610.71,1702.76 L1614.18,1702.92 L1617.64,1703.07 L1621.1,1703.22 L1624.57,1703.36 L1628.03,1703.51 L1631.5,1703.65 L1634.96,1703.78 L1638.42,1703.92 L1641.89,1704.05 L1645.35,1704.18" stroke-width="13.7"/>
</g>
<g stroke="#000" stroke-width="7.9" fill="none" stroke-linecap="butt">
<path d="M250.01,742 v-16 M250.01,118.1 v16 M277.72,742 v-16 M277.72,118.1 v16 M305.43,742 v-16 M305.43,118.1 v16 M333.14,742 v-16 M333.14,118.1 v16 M360.85,742 v-24 M360.85,118.1 v24 M388.56,742 v-16 M388.56,118.1 v16 M416.27,742 v-16 M416.27,118.1 v16 M443.98,742 v-16 M443.98,118.1 v16 M471.69,742 v-16 M471.69,118.1 v16 M499.4,742 v-24 M499.4,118.1 v24 M527.11,742 v-16 M527.11,118.1 v16 M554.82,742 v-16 M554.82,118.1 v16 M582.53,742 v-16 M582.53,118.1 v16 M610.24,742 v-16 M610.24,118.1 v16 M637.95,742 v-24 M637.95,118.1 v24 M665.66,742 v-16 M665.66,118.1 v16 M693.37,742 v-16 M693.37,118.1 v16 M721.08,742 v-16 M721.08,118.1 v16 M748.79,742 v-16 M748.79,118.1 v16 M776.5,742 v-24 M776.5,118.1 v24 M804.21,742 v-16 M804.21,118.1 v16 M831.92,742 v-16 M831.92,118.1 v16 M859.63,742 v-16 M859.63,118.1 v16 M887.34,742 v-16 M887.34,118.1 v16 M222.3,728.44 h16 M915.05,728.44 h-16 M222.3,660.62 h24 M915.05,660.62 h-24 M222.3,592.81 h16 M915.05,592.81 h-16 M222.3,524.99 h24 M915.05,524.99 h-24 M222.3,457.18 h16 M915.05,457.18 h-16 M222.3,389.36 h24 M915.05,389.36 h-24 M222.3,321.55 h16 M915.05,321.55 h-16 M222.3,253.73 h24 M915.05,253.73 h-24 M222.3,185.92 h16 M915.05,185.92 h-16"/>
<rect x="222.3" y="118.1" width="692.75" height="623.9" stroke-linejoin="miter"/>
<path d="M980.31,742 v-16 M980.31,118.1 v16 M1008.02,742 v-16 M1008.02,118.1 v16 M1035.73,742 v-16 M1035.73,118.1 v16 M1063.44,742 v-16 M1063.44,118.1 v16 M1091.15,742 v-24 M1091.15,118.1 v24 M1118.86,742 v-16 M1118.86,118.1 v16 M1146.57,742 v-16 M1146.57,118.1 v16 M1174.28,742 v-16 M1174.28,118.1 v16 M1201.99,742 v-16 M1201.99,118.1 v16 M1229.7,742 v-24 M1229.7,118.1 v24 M1257.41,742 v-16 M1257.41,118.1 v16 M1285.12,742 v-16 M1285.12,118.1 v16 M1312.83,742 v-16 M1312.83,118.1 v16 M1340.54,742 v-16 M1340.54,118.1 v16 M1368.25,742 v-24 M1368.25,118.1 v24 M1395.96,742 v-16 M1395.96,118.1 v16 M1423.67,742 v-16 M1423.67,118.1 v16 M1451.38,742 v-16 M1451.38,118.1 v16 M1479.09,742 v-16 M1479.09,118.1 v16 M1506.8,742 v-24 M1506.8,118.1 v24 M1534.51,742 v-16 M1534.51,118.1 v16 M1562.22,742 v-16 M1562.22,118.1 v16 M1589.93,742 v-16 M1589.93,118.1 v16 M1617.64,742 v-16 M1617.64,118.1 v16 M952.6,728.44 h16 M1645.35,728.44 h-16 M952.6,660.62 h24 M1645.35,660.62 h-24 M952.6,592.81 h16 M1645.35,592.81 h-16 M952.6,524.99 h24 M1645.35,524.99 h-24 M952.6,457.18 h16 M1645.35,457.18 h-16 M952.6,389.36 h24 M1645.35,389.36 h-24 M952.6,321.55 h16 M1645.35,321.55 h-16 M952.6,253.73 h24 M1645.35,253.73 h-24 M952.6,185.92 h16 M1645.35,185.92 h-16"/>
<rect x="952.6" y="118.1" width="692.75" height="623.9" stroke-linejoin="miter"/>
<path d="M250.01,1401.8 v-16 M250.01,777.9 v16 M277.72,1401.8 v-16 M277.72,777.9 v16 M305.43,1401.8 v-16 M305.43,777.9 v16 M333.14,1401.8 v-16 M333.14,777.9 v16 M360.85,1401.8 v-24 M360.85,777.9 v24 M388.56,1401.8 v-16 M388.56,777.9 v16 M416.27,1401.8 v-16 M416.27,777.9 v16 M443.98,1401.8 v-16 M443.98,777.9 v16 M471.69,1401.8 v-16 M471.69,777.9 v16 M499.4,1401.8 v-24 M499.4,777.9 v24 M527.11,1401.8 v-16 M527.11,777.9 v16 M554.82,1401.8 v-16 M554.82,777.9 v16 M582.53,1401.8 v-16 M582.53,777.9 v16 M610.24,1401.8 v-16 M610.24,777.9 v16 M637.95,1401.8 v-24 M637.95,777.9 v24 M665.66,1401.8 v-16 M665.66,777.9 v16 M693.37,1401.8 v-16 M693.37,777.9 v16 M721.08,1401.8 v-16 M721.08,777.9 v16 M748.79,1401.8 v-16 M748.79,777.9 v16 M776.5,1401.8 v-24 M776.5,777.9 v24 M804.21,1401.8 v-16 M804.21,777.9 v16 M831.92,1401.8 v-16 M831.92,777.9 v16 M859.63,1401.8 v-16 M859.63,777.9 v16 M887.34,1401.8 v-16 M887.34,777.9 v16 M222.3,1388.24 h16 M915.05,1388.24 h-16 M222.3,1320.42 h24 M915.05,1320.42 h-24 M222.3,1252.61 h16 M915.05,1252.61 h-16 M222.3,1184.79 h24 M915.05,1184.79 h-24 M222.3,1116.98 h16 M915.05,1116.98 h-16 M222.3,1049.16 h24 M915.05,1049.16 h-24 M222.3,981.35 h16 M915.05,981.35 h-16 M222.3,913.53 h24 M915.05,913.53 h-24 M222.3,845.72 h16 M915.05,845.72 h-16"/>
<rect x="222.3" y="777.9" width="692.75" height="623.9" stroke-linejoin="miter"/>
<path d="M980.31,1401.8 v-16 M980.31,777.9 v16 M1008.02,1401.8 v-16 M1008.02,777.9 v16 M1035.73,1401.8 v-16 M1035.73,777.9 v16 M1063.44,1401.8 v-16 M1063.44,777.9 v16 M1091.15,1401.8 v-24 M1091.15,777.9 v24 M1118.86,1401.8 v-16 M1118.86,777.9 v16 M1146.57,1401.8 v-16 M1146.57,777.9 v16 M1174.28,1401.8 v-16 M1174.28,777.9 v16 M1201.99,1401.8 v-16 M1201.99,777.9 v16 M1229.7,1401.8 v-24 M1229.7,777.9 v24 M1257.41,1401.8 v-16 M1257.41,777.9 v16 M1285.12,1401.8 v-16 M1285.12,777.9 v16 M1312.83,1401.8 v-16 M1312.83,777.9 v16 M1340.54,1401.8 v-16 M1340.54,777.9 v16 M1368.25,1401.8 v-24 M1368.25,777.9 v24 M1395.96,1401.8 v-16 M1395.96,777.9 v16 M1423.67,1401.8 v-16 M1423.67,777.9 v16 M1451.38,1401.8 v-16 M1451.38,777.9 v16 M1479.09,1401.8 v-16 M1479.09,777.9 v16 M1506.8,1401.8 v-24 M1506.8,777.9 v24 M1534.51,1401.8 v-16 M1534.51,777.9 v16 M1562.22,1401.8 v-16 M1562.22,777.9 v16 M1589.93,1401.8 v-16 M1589.93,777.9 v16 M1617.64,1401.8 v-16 M1617.64,777.9 v16 M952.6,1388.24 h16 M1645.35,1388.24 h-16 M952.6,1320.42 h24 M1645.35,1320.42 h-24 M952.6,1252.61 h16 M1645.35,1252.61 h-16 M952.6,1184.79 h24 M1645.35,1184.79 h-24 M952.6,1116.98 h16 M1645.35,1116.98 h-16 M952.6,1049.16 h24 M1645.35,1049.16 h-24 M952.6,981.35 h16 M1645.35,981.35 h-16 M952.6,913.53 h24 M1645.35,913.53 h-24 M952.6,845.72 h16 M1645.35,845.72 h-16"/>
<rect x="952.6" y="777.9" width="692.75" height="623.9" stroke-linejoin="miter"/>
<path d="M250.01,2061.6 v-16 M250.01,1437.7 v16 M277.72,2061.6 v-16 M277.72,1437.7 v16 M305.43,2061.6 v-16 M305.43,1437.7 v16 M333.14,2061.6 v-16 M333.14,1437.7 v16 M360.85,2061.6 v-24 M360.85,1437.7 v24 M388.56,2061.6 v-16 M388.56,1437.7 v16 M416.27,2061.6 v-16 M416.27,1437.7 v16 M443.98,2061.6 v-16 M443.98,1437.7 v16 M471.69,2061.6 v-16 M471.69,1437.7 v16 M499.4,2061.6 v-24 M499.4,1437.7 v24 M527.11,2061.6 v-16 M527.11,1437.7 v16 M554.82,2061.6 v-16 M554.82,1437.7 v16 M582.53,2061.6 v-16 M582.53,1437.7 v16 M610.24,2061.6 v-16 M610.24,1437.7 v16 M637.95,2061.6 v-24 M637.95,1437.7 v24 M665.66,2061.6 v-16 M665.66,1437.7 v16 M693.37,2061.6 v-16 M693.37,1437.7 v16 M721.08,2061.6 v-16 M721.08,1437.7 v16 M748.79,2061.6 v-16 M748.79,1437.7 v16 M776.5,2061.6 v-24 M776.5,1437.7 v24 M804.21,2061.6 v-16 M804.21,1437.7 v16 M831.92,2061.6 v-16 M831.92,1437.7 v16 M859.63,2061.6 v-16 M859.63,1437.7 v16 M887.34,2061.6 v-16 M887.34,1437.7 v16 M222.3,2048.04 h16 M915.05,2048.04 h-16 M222.3,1980.22 h24 M915.05,1980.22 h-24 M222.3,1912.41 h16 M915.05,1912.41 h-16 M222.3,1844.59 h24 M915.05,1844.59 h-24 M222.3,1776.78 h16 M915.05,1776.78 h-16 M222.3,1708.96 h24 M915.05,1708.96 h-24 M222.3,1641.15 h16 M915.05,1641.15 h-16 M222.3,1573.33 h24 M915.05,1573.33 h-24 M222.3,1505.52 h16 M915.05,1505.52 h-16"/>
<rect x="222.3" y="1437.7" width="692.75" height="623.9" stroke-linejoin="miter"/>
<path d="M980.31,2061.6 v-16 M980.31,1437.7 v16 M1008.02,2061.6 v-16 M1008.02,1437.7 v16 M1035.73,2061.6 v-16 M1035.73,1437.7 v16 M1063.44,2061.6 v-16 M1063.44,1437.7 v16 M1091.15,2061.6 v-24 M1091.15,1437.7 v24 M1118.86,2061.6 v-16 M1118.86,1437.7 v16 M1146.57,2061.6 v-16 M1146.57,1437.7 v16 M1174.28,2061.6 v-16 M1174.28,1437.7 v16 M1201.99,2061.6 v-16 M1201.99,1437.7 v16 M1229.7,2061.6 v-24 M1229.7,1437.7 v24 M1257.41,2061.6 v-16 M1257.41,1437.7 v16 M1285.12,2061.6 v-16 M1285.12,1437.7 v16 M1312.83,2061.6 v-16 M1312.83,1437.7 v16 M1340.54,2061.6 v-16 M1340.54,1437.7 v16 M1368.25,2061.6 v-24 M1368.25,1437.7 v24 M1395.96,2061.6 v-16 M1395.96,1437.7 v16 M1423.67,2061.6 v-16 M1423.67,1437.7 v16 M1451.38,2061.6 v-16 M1451.38,1437.7 v16 M1479.09,2061.6 v-16 M1479.09,1437.7 v16 M1506.8,2061.6 v-24 M1506.8,1437.7 v24 M1534.51,2061.6 v-16 M1534.51,1437.7 v16 M1562.22,2061.6 v-16 M1562.22,1437.7 v16 M1589.93,2061.6 v-16 M1589.93,1437.7 v16 M1617.64,2061.6 v-16 M1617.64,1437.7 v16 M952.6,2048.04 h16 M1645.35,2048.04 h-16 M952.6,1980.22 h24 M1645.35,1980.22 h-24 M952.6,1912.41 h16 M1645.35,1912.41 h-16 M952.6,1844.59 h24 M1645.35,1844.59 h-24 M952.6,1776.78 h16 M1645.35,1776.78 h-16 M952.6,1708.96 h24 M1645.35,1708.96 h-24 M952.6,1641.15 h16 M1645.35,1641.15 h-16 M952.6,1573.33 h24 M1645.35,1573.33 h-24 M952.6,1505.52 h16 M1645.35,1505.52 h-16"/>
<rect x="952.6" y="1437.7" width="692.75" height="623.9" stroke-linejoin="miter"/>
</g>
<text transform="translate(100.37,136.4) scale(1,1.051)" font-family='"Liberation Sans", sans-serif' font-size="57.9" font-weight="bold" fill="#000">200</text>
<text transform="translate(100.37,272.03) scale(1,1.051)" font-family='"Liberation Sans", sans-serif' font-size="57.9" font-weight="bold" fill="#000">100</text>
<text transform="translate(164.77,407.66) scale(1,1.051)" font-family='"Liberation Sans", sans-serif' font-size="57.9" font-weight="bold" fill="#000">0</text>
<text transform="translate(81.09,543.29) scale(1,1.051)" font-family='"Liberation Sans", sans-serif' font-size="57.9" font-weight="bold" fill="#000">-100</text>
<text transform="translate(81.09,678.92) scale(1,1.051)" font-family='"Liberation Sans", sans-serif' font-size="57.9" font-weight="bold" fill="#000">-200</text>
<text transform="translate(100.37,796.2) scale(1,1.051)" font-family='"Liberation Sans", sans-serif' font-size="57.9" font-weight="bold" fill="#000">200</text>
<text transform="translate(100.37,931.83) scale(1,1.051)" font-family='"Liberation Sans", sans-serif' font-size="57.9" font-weight="bold" fill="#000">100</text>
<text transform="translate(164.77,1067.46) scale(1,1.051)" font-family='"Liberation Sans", sans-serif' font-size="57.9" font-weight="bold" fill="#000">0</text>
<text transform="translate(81.09,1203.09) scale(1,1.051)" font-family='"Liberation Sans", sans-serif' font-size="57.9" font-weight="bold" fill="#000">-100</text>
<text transform="translate(81.09,1338.72) scale(1,1.051)" font-family='"Liberation Sans", sans-serif' font-size="57.9" font-weight="bold" fill="#000">-200</text>
<text transform="translate(100.37,1456) scale(1,1.051)" font-family='"Liberation Sans", sans-serif' font-size="57.9" font-weight="bold" fill="#000">200</text>
<text transform="translate(100.37,1591.63) scale(1,1.051)" font-family='"Liberation Sans", sans-serif' font-size="57.9" font-weight="bold" fill="#000">100</text>
<text transform="translate(164.77,1727.26) scale(1,1.051)" font-family='"Liberation Sans", sans-serif' font-size="57.9" font-weight="bold" fill="#000">0</text>
<text transform="translate(81.09,1862.89) scale(1,1.051)" font-family='"Liberation Sans", sans-serif' font-size="57.9" font-weight="bold" fill="#000">-100</text>
<text transform="translate(81.09,1998.52) scale(1,1.051)" font-family='"Liberation Sans", sans-serif' font-size="57.9" font-weight="bold" fill="#000">-200</text>
<text transform="translate(206.2,2133.61) scale(1,1.051)" font-family='"Liberation Sans", sans-serif' font-size="57.9" font-weight="bold" fill="#000">0</text>
<text transform="translate(344.75,2133.61) scale(1,1.051)" font-family='"Liberation Sans", sans-serif' font-size="57.9" font-weight="bold" fill="#000">1</text>
<text transform="translate(483.3,2133.61) scale(1,1.051)" font-family='"Liberation Sans", sans-serif' font-size="57.9" font-weight="bold" fill="#000">2</text>
<text transform="translate(621.85,2133.61) scale(1,1.051)" font-family='"Liberation Sans", sans-serif' font-size="57.9" font-weight="bold" fill="#000">3</text>
<text transform="translate(760.4,2133.61) scale(1,1.051)" font-family='"Liberation Sans", sans-serif' font-size="57.9" font-weight="bold" fill="#000">4</text>
<text transform="translate(898.95,2133.61) scale(1,1.051)" font-family='"Liberation Sans", sans-serif' font-size="57.9" font-weight="bold" fill="#000">5</text>
<text transform="translate(936.5,2133.61) scale(1,1.051)" font-family='"Liberation Sans", sans-serif' font-size="57.9" font-weight="bold" fill="#000">0</text>
<text transform="translate(1075.05,2133.61) scale(1,1.051)" font-family='"Liberation Sans", sans-serif' font-size="57.9" font-weight="bold" fill="#000">1</text>
<text transform="translate(1213.6,2133.61) scale(1,1.051)" font-family='"Liberation Sans", sans-serif' font-size="57.9" font-weight="bold" fill="#000">2</text>
<text transform="translate(1352.15,2133.61) scale(1,1.051)" font-family='"Liberation Sans", sans-serif' font-size="57.9" font-weight="bold" fill="#000">3</text>
<text transform="translate(1490.7,2133.61) scale(1,1.051)" font-family='"Liberation Sans", sans-serif' font-size="57.9" font-weight="bold" fill="#000">4</text>
<text transform="translate(1629.25,2133.61) scale(1,1.051)" font-family='"Liberation Sans", sans-serif' font-size="57.9" font-weight="bold" fill="#000">5</text>
<text transform="translate(481.57,215.4) scale(1,1.043)" font-family='"Liberation Sans", sans-serif' font-size="57.6" fill="#000">QGD1</text>
<text transform="translate(1200.37,215.4) scale(1,1.043)" font-family='"Liberation Sans", sans-serif' font-size="57.6" fill="#000">QGD1S</text>
<text transform="translate(491.97,871.9) scale(1,1.043)" font-family='"Liberation Sans", sans-serif' font-size="57.6" fill="#000">QG24</text>
<text transform="translate(1207.67,871.9) scale(1,1.043)" font-family='"Liberation Sans", sans-serif' font-size="57.6" fill="#000">QG67</text>
<text transform="translate(481.57,1530.5) scale(1,1.043)" font-family='"Liberation Sans", sans-serif' font-size="57.6" fill="#000">QG72</text>
<text transform="translate(1200.37,1530.5) scale(1,1.043)" font-family='"Liberation Sans", sans-serif' font-size="57.6" fill="#000">QG111</text>
<text transform="translate(772.98,679.65) scale(1,1.035)" font-family='"Liberation Sans", sans-serif' font-size="66.5" fill="#000">(a)</text>
<text transform="translate(1511.78,676.65) scale(1,1.035)" font-family='"Liberation Sans", sans-serif' font-size="66.5" fill="#000">(b)</text>
<text transform="translate(774.78,1335.65) scale(1,1.035)" font-family='"Liberation Sans", sans-serif' font-size="66.5" fill="#000">(c)</text>
<text transform="translate(1511.78,1337.75) scale(1,1.035)" font-family='"Liberation Sans", sans-serif' font-size="66.5" fill="#000">(d)</text>
<text transform="translate(772.98,1987.95) scale(1,1.035)" font-family='"Liberation Sans", sans-serif' font-size="66.5" fill="#000">(e)</text>
<text transform="translate(1521.08,1983.75) scale(1,1.035)" font-family='"Liberation Sans", sans-serif' font-size="66.5" fill="#000">(f)</text>
<text x="485.9" y="2204.6" font-family='"Liberation Sans", sans-serif' font-size="57.6" fill="#000">k(fm<tspan font-size="39.5" dy="-23.6">-1</tspan><tspan dy="23.6" dx="0.5">)</tspan></text>
<text x="1216.2" y="2204.6" font-family='"Liberation Sans", sans-serif' font-size="57.6" fill="#000">k(fm<tspan font-size="39.5" dy="-23.6">-1</tspan><tspan dy="23.6" dx="0.5">)</tspan></text>
<text transform="translate(861.9,82) scale(1.03,0.985)" font-family='"Liberation Serif", serif' font-size="89" fill="#000">ρ</text>
<text transform="translate(909.01,80.31) scale(0.9921,0.6516)" font-family='"Liberation Sans", sans-serif' font-size="80" font-weight="bold" fill="#000">=</text>
<text transform="translate(953.9,82) scale(1.03,0.985)" font-family='"Liberation Serif", serif' font-size="89" fill="#000">ρ</text>
<text transform="translate(1000.53,104.63) scale(0.9937,1.0366)" font-family='"Liberation Sans", sans-serif' font-size="56" fill="#000">0</text>
<text transform="translate(58.9,549.7) rotate(-90) scale(0.96,1.057)" font-family='"Liberation Sans", sans-serif' font-size="58" fill="#000">U</text>
<text transform="translate(35,508.9) rotate(-90) scale(0.974,1.053)" font-family='"Liberation Sans", sans-serif' font-size="38.5" fill="#000">D</text>
<text transform="translate(16.12,511.5) rotate(-90)" font-family='"DejaVu Sans", sans-serif' font-size="38.7" fill="#000">~</text>
<text transform="translate(45.8,479.5) rotate(-90)" font-family='"Liberation Sans", sans-serif' font-size="27.5" font-style="italic" fill="#000">l</text>
<text transform="translate(74.1,509.2) rotate(-90)" font-family='"Liberation Sans", sans-serif' font-size="39.2" fill="#000">sym</text>
<text transform="translate(58.9,437.2) rotate(-90) scale(0.975,1.025)" font-family='"Liberation Sans", sans-serif' font-size="58" fill="#000">(MeV)</text>
<text transform="translate(58.9,1209.5) rotate(-90) scale(0.96,1.057)" font-family='"Liberation Sans", sans-serif' font-size="58" fill="#000">U</text>
<text transform="translate(35,1168.7) rotate(-90) scale(0.974,1.053)" font-family='"Liberation Sans", sans-serif' font-size="38.5" fill="#000">D</text>
<text transform="translate(16.12,1171.3) rotate(-90)" font-family='"DejaVu Sans", sans-serif' font-size="38.7" fill="#000">~</text>
<text transform="translate(45.8,1139.3) rotate(-90)" font-family='"Liberation Sans", sans-serif' font-size="27.5" font-style="italic" fill="#000">l</text>
<text transform="translate(74.1,1169) rotate(-90)" font-family='"Liberation Sans", sans-serif' font-size="39.2" fill="#000">sym</text>
<text transform="translate(58.9,1097) rotate(-90) scale(0.975,1.025)" font-family='"Liberation Sans", sans-serif' font-size="58" fill="#000">(MeV)</text>
<text transform="translate(58.9,1869.3) rotate(-90) scale(0.96,1.057)" font-family='"Liberation Sans", sans-serif' font-size="58" fill="#000">U</text>
<text transform="translate(35,1828.5) rotate(-90) scale(0.974,1.053)" font-family='"Liberation Sans", sans-serif' font-size="38.5" fill="#000">D</text>
<text transform="translate(16.12,1831.1) rotate(-90)" font-family='"DejaVu Sans", sans-serif' font-size="38.7" fill="#000">~</text>
<text transform="translate(45.8,1799.1) rotate(-90)" font-family='"Liberation Sans", sans-serif' font-size="27.5" font-style="italic" fill="#000">l</text>
<text transform="translate(74.1,1828.8) rotate(-90)" font-family='"Liberation Sans", sans-serif' font-size="39.2" fill="#000">sym</text>
<text transform="translate(58.9,1756.8) rotate(-90) scale(0.975,1.025)" font-family='"Liberation Sans", sans-serif' font-size="58" fill="#000">(MeV)</text>
<g fill="none" stroke="#515151" stroke-linecap="round" stroke-linejoin="round">
<path d="M287.7,527.9 H425.5" stroke-width="9.9"/>
<path d="M287.5,597.5 H426" stroke-width="6.8" stroke-dasharray="28.1 38.1"/>
<path d="M287.5,666.6 H407" stroke-width="6.7" stroke-dasharray="34.3 22.4 4.2 22.4"/>
<g stroke-width="3.3">
<circle cx="507.6" cy="527.8" r="17.1"/>
<rect x="492.7" y="582.1" width="30" height="30"/>
<path d="M507.5,642.7 L528.2,678.55 L486.8,678.55 Z"/>
</g></g>
<text transform="translate(313.51,486.3) scale(1,1.048)" font-family='"Liberation Sans", sans-serif' font-size="48.4" fill="#000">QG</text>
<text transform="translate(453.49,486.3) scale(0.99,1.02)" font-family='"Liberation Sans", sans-serif' font-size="48.4" fill="#000">Gogny</text>
<text transform="translate(590.44,544.4) scale(0.975,1.04)" font-family='"Liberation Sans", sans-serif' font-size="48.2" fill="#000">D</text>
<text transform="translate(587.61,523.58) scale(1,1.2168)" font-family='"DejaVu Sans", sans-serif' font-size="47.13" fill="#000">~</text>
<text transform="translate(624.6,556.7) scale(1,1.02)" font-family='"Liberation Sans", sans-serif' font-size="33" fill="#000">1</text>
<text transform="translate(642.81,549.4) scale(0.9736,0.9923)" font-family='"Liberation Sans", sans-serif' font-size="48.2" fill="#000">+</text>
<text transform="translate(670.34,544.4) scale(0.975,1.04)" font-family='"Liberation Sans", sans-serif' font-size="48.2" fill="#000">D</text>
<text transform="translate(667.51,523.58) scale(1,1.2168)" font-family='"DejaVu Sans", sans-serif' font-size="47.13" fill="#000">~</text>
<text transform="translate(704.07,556.7) scale(1.0443,1.0025)" font-family='"Liberation Sans", sans-serif' font-size="33" fill="#000">2</text>
<text transform="translate(590.44,613.5) scale(0.975,1.04)" font-family='"Liberation Sans", sans-serif' font-size="48.2" fill="#000">D</text>
<text transform="translate(587.61,592.68) scale(1,1.2168)" font-family='"DejaVu Sans", sans-serif' font-size="47.13" fill="#000">~</text>
<text transform="translate(624.6,625.8) scale(1,1.02)" font-family='"Liberation Sans", sans-serif' font-size="33" fill="#000">1</text>
<text transform="translate(590.44,682.6) scale(0.975,1.04)" font-family='"Liberation Sans", sans-serif' font-size="48.2" fill="#000">D</text>
<text transform="translate(587.61,661.78) scale(1,1.2168)" font-family='"DejaVu Sans", sans-serif' font-size="47.13" fill="#000">~</text>
<text transform="translate(624.17,694.9) scale(1.0443,1.0025)" font-family='"Liberation Sans", sans-serif' font-size="33" fill="#000">2</text>
</svg>
</body></html>
